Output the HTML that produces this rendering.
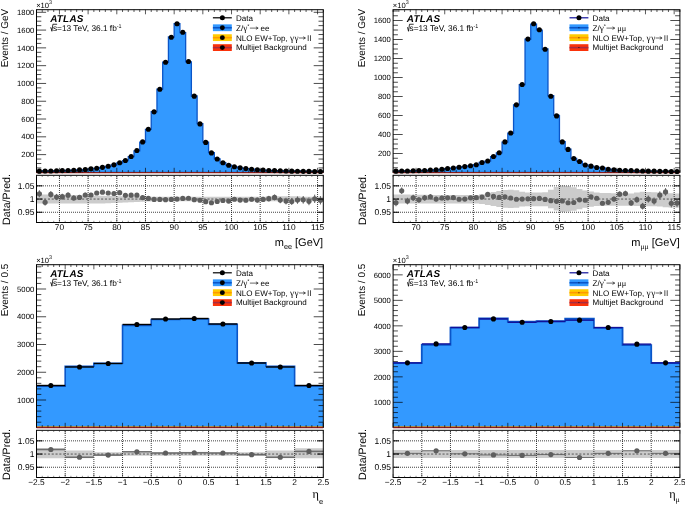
<!DOCTYPE html>
<html><head><meta charset="utf-8"><title>ATLAS Z lineshape</title>
<style>
html,body{margin:0;padding:0;background:#fff;}
body{width:685px;height:506px;overflow:hidden;}
svg{display:block;font-family:"Liberation Sans", sans-serif;fill:#000;will-change:transform;}
text{text-rendering:geometricPrecision;}
</style></head><body>
<svg width="685" height="506" viewBox="0 0 685 506">
<rect width="685" height="506" fill="#fff"/>
<path d="M36.5,172.4 L36.5,171.18 L42.24,171.18 L42.24,170.96 L47.97,170.96 L47.97,171 L53.71,171 L53.71,170.81 L59.44,170.81 L59.44,170.64 L65.18,170.64 L65.18,170.47 L70.92,170.47 L70.92,170.27 L76.65,170.27 L76.65,169.92 L82.39,169.92 L82.39,169.6 L88.12,169.6 L88.12,168.9 L93.86,168.9 L93.86,168.31 L99.6,168.31 L99.6,167.46 L105.33,167.46 L105.33,166.4 L111.07,166.4 L111.07,164.99 L116.8,164.99 L116.8,163.02 L122.54,163.02 L122.54,160.65 L128.28,160.65 L128.28,156.71 L134.01,156.71 L134.01,150.83 L139.75,150.83 L139.75,142.05 L145.48,142.05 L145.48,129.36 L151.22,129.36 L151.22,111.73 L156.96,111.73 L156.96,89.11 L162.69,89.11 L162.69,62.03 L168.43,62.03 L168.43,36.99 L174.16,36.99 L174.16,23.68 L179.9,23.68 L179.9,32.54 L185.64,32.54 L185.64,61.9 L191.37,61.9 L191.37,95.99 L197.11,95.99 L197.11,123.7 L202.84,123.7 L202.84,142.12 L208.58,142.12 L208.58,152.64 L214.32,152.64 L214.32,158.93 L220.05,158.93 L220.05,162.74 L225.79,162.74 L225.79,165.14 L231.52,165.14 L231.52,166.79 L237.26,166.79 L237.26,167.85 L243,167.85 L243,168.56 L248.73,168.56 L248.73,169.2 L254.47,169.2 L254.47,169.72 L260.2,169.72 L260.2,170.08 L265.94,170.08 L265.94,170.45 L271.68,170.45 L271.68,170.63 L277.41,170.63 L277.41,170.79 L283.15,170.79 L283.15,170.97 L288.88,170.97 L288.88,171.14 L294.62,171.14 L294.62,171.24 L300.36,171.24 L300.36,171.33 L306.09,171.33 L306.09,171.37 L311.83,171.37 L311.83,171.51 L317.56,171.51 L317.56,171.51 L323.3,171.51 L323.3,172.4Z" fill="#3399ff"/>
<path d="M36.5,171.18 L42.24,171.18 L42.24,170.96 L47.97,170.96 L47.97,171 L53.71,171 L53.71,170.81 L59.44,170.81 L59.44,170.64 L65.18,170.64 L65.18,170.47 L70.92,170.47 L70.92,170.27 L76.65,170.27 L76.65,169.92 L82.39,169.92 L82.39,169.6 L88.12,169.6 L88.12,168.9 L93.86,168.9 L93.86,168.31 L99.6,168.31 L99.6,167.46 L105.33,167.46 L105.33,166.4 L111.07,166.4 L111.07,164.99 L116.8,164.99 L116.8,163.02 L122.54,163.02 L122.54,160.65 L128.28,160.65 L128.28,156.71 L134.01,156.71 L134.01,150.83 L139.75,150.83 L139.75,142.05 L145.48,142.05 L145.48,129.36 L151.22,129.36 L151.22,111.73 L156.96,111.73 L156.96,89.11 L162.69,89.11 L162.69,62.03 L168.43,62.03 L168.43,36.99 L174.16,36.99 L174.16,23.68 L179.9,23.68 L179.9,32.54 L185.64,32.54 L185.64,61.9 L191.37,61.9 L191.37,95.99 L197.11,95.99 L197.11,123.7 L202.84,123.7 L202.84,142.12 L208.58,142.12 L208.58,152.64 L214.32,152.64 L214.32,158.93 L220.05,158.93 L220.05,162.74 L225.79,162.74 L225.79,165.14 L231.52,165.14 L231.52,166.79 L237.26,166.79 L237.26,167.85 L243,167.85 L243,168.56 L248.73,168.56 L248.73,169.2 L254.47,169.2 L254.47,169.72 L260.2,169.72 L260.2,170.08 L265.94,170.08 L265.94,170.45 L271.68,170.45 L271.68,170.63 L277.41,170.63 L277.41,170.79 L283.15,170.79 L283.15,170.97 L288.88,170.97 L288.88,171.14 L294.62,171.14 L294.62,171.24 L300.36,171.24 L300.36,171.33 L306.09,171.33 L306.09,171.37 L311.83,171.37 L311.83,171.51 L317.56,171.51 L317.56,171.51 L323.3,171.51" fill="none" stroke="#0a55c8" stroke-width="1.3" stroke-linejoin="miter"/>
<rect x="36.5" y="171.1" width="286.8" height="0.7" fill="#ff9900" opacity="0"/>
<rect x="36.5" y="9.7" width="286.8" height="162.7" fill="none" stroke="#000" stroke-width="1"/>
<line x1="36.5" y1="172.6" x2="323.3" y2="172.6" stroke="#8a1c1c" stroke-width="1.3"/>
<text x="34.2" y="157.26" font-size="7.7" text-anchor="end" >200</text>
<text x="34.2" y="139.47" font-size="7.7" text-anchor="end" >400</text>
<text x="34.2" y="121.68" font-size="7.7" text-anchor="end" >600</text>
<text x="34.2" y="103.89" font-size="7.7" text-anchor="end" >800</text>
<text x="34.2" y="86.1" font-size="7.7" text-anchor="end" >1000</text>
<text x="34.2" y="68.31" font-size="7.7" text-anchor="end" >1200</text>
<text x="34.2" y="50.52" font-size="7.7" text-anchor="end" >1400</text>
<text x="34.2" y="32.73" font-size="7.7" text-anchor="end" >1600</text>
<text x="34.2" y="14.94" font-size="7.7" text-anchor="end" >1800</text>
<path d="M36.5,167.95h4.8M323.3,167.95h-4.8M36.5,163.5h4.8M323.3,163.5h-4.8M36.5,159.06h4.8M323.3,159.06h-4.8M36.5,154.61h9.6M323.3,154.61h-9.6M36.5,150.16h4.8M323.3,150.16h-4.8M36.5,145.72h4.8M323.3,145.72h-4.8M36.5,141.27h4.8M323.3,141.27h-4.8M36.5,136.82h9.6M323.3,136.82h-9.6M36.5,132.37h4.8M323.3,132.37h-4.8M36.5,127.93h4.8M323.3,127.93h-4.8M36.5,123.48h4.8M323.3,123.48h-4.8M36.5,119.03h9.6M323.3,119.03h-9.6M36.5,114.58h4.8M323.3,114.58h-4.8M36.5,110.14h4.8M323.3,110.14h-4.8M36.5,105.69h4.8M323.3,105.69h-4.8M36.5,101.24h9.6M323.3,101.24h-9.6M36.5,96.79h4.8M323.3,96.79h-4.8M36.5,92.34h4.8M323.3,92.34h-4.8M36.5,87.9h4.8M323.3,87.9h-4.8M36.5,83.45h9.6M323.3,83.45h-9.6M36.5,79h4.8M323.3,79h-4.8M36.5,74.56h4.8M323.3,74.56h-4.8M36.5,70.11h4.8M323.3,70.11h-4.8M36.5,65.66h9.6M323.3,65.66h-9.6M36.5,61.21h4.8M323.3,61.21h-4.8M36.5,56.77h4.8M323.3,56.77h-4.8M36.5,52.32h4.8M323.3,52.32h-4.8M36.5,47.87h9.6M323.3,47.87h-9.6M36.5,43.42h4.8M323.3,43.42h-4.8M36.5,38.97h4.8M323.3,38.97h-4.8M36.5,34.53h4.8M323.3,34.53h-4.8M36.5,30.08h9.6M323.3,30.08h-9.6M36.5,25.63h4.8M323.3,25.63h-4.8M36.5,21.19h4.8M323.3,21.19h-4.8M36.5,16.74h4.8M323.3,16.74h-4.8M36.5,12.29h9.6M323.3,12.29h-9.6" stroke="#000" stroke-width="0.7" fill="none"/>
<path d="M36.5,172.4v-2.3M36.5,9.7v2.3M42.24,172.4v-2.3M42.24,9.7v2.3M47.97,172.4v-2.3M47.97,9.7v2.3M53.71,172.4v-2.3M53.71,9.7v2.3M59.44,172.4v-4.6M59.44,9.7v4.6M65.18,172.4v-2.3M65.18,9.7v2.3M70.92,172.4v-2.3M70.92,9.7v2.3M76.65,172.4v-2.3M76.65,9.7v2.3M82.39,172.4v-2.3M82.39,9.7v2.3M88.12,172.4v-4.6M88.12,9.7v4.6M93.86,172.4v-2.3M93.86,9.7v2.3M99.6,172.4v-2.3M99.6,9.7v2.3M105.33,172.4v-2.3M105.33,9.7v2.3M111.07,172.4v-2.3M111.07,9.7v2.3M116.8,172.4v-4.6M116.8,9.7v4.6M122.54,172.4v-2.3M122.54,9.7v2.3M128.28,172.4v-2.3M128.28,9.7v2.3M134.01,172.4v-2.3M134.01,9.7v2.3M139.75,172.4v-2.3M139.75,9.7v2.3M145.48,172.4v-4.6M145.48,9.7v4.6M151.22,172.4v-2.3M151.22,9.7v2.3M156.96,172.4v-2.3M156.96,9.7v2.3M162.69,172.4v-2.3M162.69,9.7v2.3M168.43,172.4v-2.3M168.43,9.7v2.3M174.16,172.4v-4.6M174.16,9.7v4.6M179.9,172.4v-2.3M179.9,9.7v2.3M185.64,172.4v-2.3M185.64,9.7v2.3M191.37,172.4v-2.3M191.37,9.7v2.3M197.11,172.4v-2.3M197.11,9.7v2.3M202.84,172.4v-4.6M202.84,9.7v4.6M208.58,172.4v-2.3M208.58,9.7v2.3M214.32,172.4v-2.3M214.32,9.7v2.3M220.05,172.4v-2.3M220.05,9.7v2.3M225.79,172.4v-2.3M225.79,9.7v2.3M231.52,172.4v-4.6M231.52,9.7v4.6M237.26,172.4v-2.3M237.26,9.7v2.3M243,172.4v-2.3M243,9.7v2.3M248.73,172.4v-2.3M248.73,9.7v2.3M254.47,172.4v-2.3M254.47,9.7v2.3M260.2,172.4v-4.6M260.2,9.7v4.6M265.94,172.4v-2.3M265.94,9.7v2.3M271.68,172.4v-2.3M271.68,9.7v2.3M277.41,172.4v-2.3M277.41,9.7v2.3M283.15,172.4v-2.3M283.15,9.7v2.3M288.88,172.4v-4.6M288.88,9.7v4.6M294.62,172.4v-2.3M294.62,9.7v2.3M300.36,172.4v-2.3M300.36,9.7v2.3M306.09,172.4v-2.3M306.09,9.7v2.3M311.83,172.4v-2.3M311.83,9.7v2.3M317.56,172.4v-4.6M317.56,9.7v4.6M323.3,172.4v-2.3M323.3,9.7v2.3" stroke="#000" stroke-width="0.65" fill="none"/>
<text x="36.2" y="8" font-size="7.6">×10<tspan dy="-3.9" font-size="5.4">3</tspan></text>
<circle cx="39.37" cy="171.15" r="2.55" fill="#000"/>
<circle cx="45.1" cy="170.98" r="2.55" fill="#000"/>
<circle cx="50.84" cy="170.98" r="2.55" fill="#000"/>
<circle cx="56.58" cy="170.8" r="2.55" fill="#000"/>
<circle cx="62.31" cy="170.62" r="2.55" fill="#000"/>
<circle cx="68.05" cy="170.44" r="2.55" fill="#000"/>
<circle cx="73.78" cy="170.27" r="2.55" fill="#000"/>
<circle cx="79.52" cy="169.91" r="2.55" fill="#000"/>
<circle cx="85.26" cy="169.55" r="2.55" fill="#000"/>
<circle cx="90.99" cy="168.84" r="2.55" fill="#000"/>
<circle cx="96.73" cy="168.22" r="2.55" fill="#000"/>
<circle cx="102.46" cy="167.33" r="2.55" fill="#000"/>
<circle cx="108.2" cy="166.26" r="2.55" fill="#000"/>
<circle cx="113.94" cy="164.84" r="2.55" fill="#000"/>
<circle cx="119.67" cy="162.79" r="2.55" fill="#000"/>
<circle cx="125.41" cy="160.48" r="2.55" fill="#000"/>
<circle cx="131.14" cy="156.48" r="2.55" fill="#000"/>
<circle cx="136.88" cy="150.52" r="2.55" fill="#000"/>
<circle cx="142.62" cy="141.89" r="2.55" fill="#000"/>
<circle cx="148.35" cy="129.26" r="2.55" fill="#000"/>
<circle cx="154.09" cy="111.83" r="2.55" fill="#000"/>
<circle cx="159.82" cy="89.23" r="2.55" fill="#000"/>
<circle cx="165.56" cy="62.28" r="2.55" fill="#000"/>
<circle cx="171.3" cy="37.2" r="2.55" fill="#000"/>
<circle cx="177.03" cy="23.68" r="2.55" fill="#000"/>
<circle cx="182.77" cy="32.21" r="2.55" fill="#000"/>
<circle cx="188.5" cy="61.57" r="2.55" fill="#000"/>
<circle cx="194.24" cy="96.17" r="2.55" fill="#000"/>
<circle cx="199.98" cy="123.92" r="2.55" fill="#000"/>
<circle cx="205.71" cy="142.42" r="2.55" fill="#000"/>
<circle cx="211.45" cy="152.92" r="2.55" fill="#000"/>
<circle cx="217.18" cy="159.06" r="2.55" fill="#000"/>
<circle cx="222.92" cy="162.79" r="2.55" fill="#000"/>
<circle cx="228.66" cy="165.2" r="2.55" fill="#000"/>
<circle cx="234.39" cy="166.8" r="2.55" fill="#000"/>
<circle cx="240.13" cy="167.86" r="2.55" fill="#000"/>
<circle cx="245.86" cy="168.58" r="2.55" fill="#000"/>
<circle cx="251.6" cy="169.2" r="2.55" fill="#000"/>
<circle cx="257.34" cy="169.73" r="2.55" fill="#000"/>
<circle cx="263.07" cy="170.09" r="2.55" fill="#000"/>
<circle cx="268.81" cy="170.44" r="2.55" fill="#000"/>
<circle cx="274.54" cy="170.62" r="2.55" fill="#000"/>
<circle cx="280.28" cy="170.8" r="2.55" fill="#000"/>
<circle cx="286.02" cy="170.98" r="2.55" fill="#000"/>
<circle cx="291.75" cy="171.15" r="2.55" fill="#000"/>
<circle cx="297.49" cy="171.24" r="2.55" fill="#000"/>
<circle cx="303.22" cy="171.33" r="2.55" fill="#000"/>
<circle cx="308.96" cy="171.38" r="2.55" fill="#000"/>
<circle cx="314.7" cy="171.51" r="2.55" fill="#000"/>
<circle cx="320.43" cy="171.51" r="2.55" fill="#000"/>
<path d="M36.5,194.36 L42.24,194.36 L42.24,194.49 L47.97,194.49 L47.97,194.61 L53.71,194.61 L53.71,194.74 L59.44,194.74 L59.44,194.87 L65.18,194.87 L65.18,194.99 L70.92,194.99 L70.92,195.12 L76.65,195.12 L76.65,195.25 L82.39,195.25 L82.39,195.38 L88.12,195.38 L88.12,195.5 L93.86,195.5 L93.86,195.63 L99.6,195.63 L99.6,195.76 L105.33,195.76 L105.33,195.88 L111.07,195.88 L111.07,196.01 L116.8,196.01 L116.8,196.14 L122.54,196.14 L122.54,196.26 L128.28,196.26 L128.28,196.39 L134.01,196.39 L134.01,196.52 L139.75,196.52 L139.75,196.64 L145.48,196.64 L145.48,196.77 L151.22,196.77 L151.22,196.81 L156.96,196.81 L156.96,196.81 L162.69,196.81 L162.69,196.81 L168.43,196.81 L168.43,196.81 L174.16,196.81 L174.16,196.81 L179.9,196.81 L179.9,196.81 L185.64,196.81 L185.64,196.81 L191.37,196.81 L191.37,196.81 L197.11,196.81 L197.11,196.81 L202.84,196.81 L202.84,196.81 L208.58,196.81 L208.58,196.81 L214.32,196.81 L214.32,196.81 L220.05,196.81 L220.05,196.81 L225.79,196.81 L225.79,196.81 L231.52,196.81 L231.52,196.81 L237.26,196.81 L237.26,196.81 L243,196.81 L243,196.81 L248.73,196.81 L248.73,196.81 L254.47,196.81 L254.47,196.81 L260.2,196.81 L260.2,196.81 L265.94,196.81 L265.94,196.15 L271.68,196.15 L271.68,196.15 L277.41,196.15 L277.41,196.15 L283.15,196.15 L283.15,196.15 L288.88,196.15 L288.88,196.15 L294.62,196.15 L294.62,196.15 L300.36,196.15 L300.36,196.81 L306.09,196.81 L306.09,196.81 L311.83,196.81 L311.83,196.81 L317.56,196.81 L317.56,196.81 L323.3,196.81 L323.3,201.16 L317.56,201.16 L317.56,201.16 L311.83,201.16 L311.83,201.16 L306.09,201.16 L306.09,201.16 L300.36,201.16 L300.36,201.16 L294.62,201.16 L294.62,201.16 L288.88,201.16 L288.88,201.16 L283.15,201.16 L283.15,201.16 L277.41,201.16 L277.41,201.16 L271.68,201.16 L271.68,201.16 L265.94,201.16 L265.94,201.16 L260.2,201.16 L260.2,201.16 L254.47,201.16 L254.47,201.16 L248.73,201.16 L248.73,201.16 L243,201.16 L243,201.16 L237.26,201.16 L237.26,201.16 L231.52,201.16 L231.52,201.16 L225.79,201.16 L225.79,201.16 L220.05,201.16 L220.05,201.16 L214.32,201.16 L214.32,201.16 L208.58,201.16 L208.58,201.16 L202.84,201.16 L202.84,201.16 L197.11,201.16 L197.11,201.16 L191.37,201.16 L191.37,201.16 L185.64,201.16 L185.64,201.16 L179.9,201.16 L179.9,201.16 L174.16,201.16 L174.16,201.16 L168.43,201.16 L168.43,201.16 L162.69,201.16 L162.69,201.16 L156.96,201.16 L156.96,201.33 L151.22,201.33 L151.22,201.57 L145.48,201.57 L145.48,201.81 L139.75,201.81 L139.75,202.05 L134.01,202.05 L134.01,202.28 L128.28,202.28 L128.28,202.52 L122.54,202.52 L122.54,202.76 L116.8,202.76 L116.8,203 L111.07,203 L111.07,203.23 L105.33,203.23 L105.33,203.47 L99.6,203.47 L99.6,203.59 L93.86,203.59 L93.86,203.59 L88.12,203.59 L88.12,203.59 L82.39,203.59 L82.39,203.59 L76.65,203.59 L76.65,203.59 L70.92,203.59 L70.92,203.59 L65.18,203.59 L65.18,203.59 L59.44,203.59 L59.44,203.59 L53.71,203.59 L53.71,203.59 L47.97,203.59 L47.97,203.59 L42.24,203.59 L42.24,203.59 L36.5,203.59Z" fill="#cccccc"/>
<path d="M37,212.25H323.3M37,185.85H323.3M59.44,176V222.5M88.12,176V222.5M116.8,176V222.5M145.48,176V222.5M174.16,176V222.5M202.84,176V222.5M231.52,176V222.5M260.2,176V222.5M288.88,176V222.5M317.56,176V222.5" stroke="#000" stroke-width="0.75" stroke-dasharray="1 1" fill="none"/>
<line x1="36.5" y1="199.05" x2="323.3" y2="199.05" stroke="#555" stroke-width="1" stroke-dasharray="2.1 1.7"/>
<line x1="39.37" y1="190.24" x2="39.37" y2="197.3" stroke="#5e5e5e" stroke-width="1"/>
<circle cx="39.37" cy="193.77" r="2.6" fill="#5e5e5e"/>
<line x1="45.1" y1="199" x2="45.1" y2="205.6" stroke="#5e5e5e" stroke-width="1"/>
<circle cx="45.1" cy="202.3" r="2.6" fill="#5e5e5e"/>
<line x1="50.84" y1="191.08" x2="50.84" y2="197.68" stroke="#5e5e5e" stroke-width="1"/>
<circle cx="50.84" cy="194.38" r="2.6" fill="#5e5e5e"/>
<line x1="56.58" y1="193.91" x2="56.58" y2="200.13" stroke="#5e5e5e" stroke-width="1"/>
<circle cx="56.58" cy="197.02" r="2.6" fill="#5e5e5e"/>
<line x1="62.31" y1="193.72" x2="62.31" y2="199.63" stroke="#5e5e5e" stroke-width="1"/>
<circle cx="62.31" cy="196.67" r="2.6" fill="#5e5e5e"/>
<line x1="68.05" y1="192.38" x2="68.05" y2="198.01" stroke="#5e5e5e" stroke-width="1"/>
<circle cx="68.05" cy="195.2" r="2.6" fill="#5e5e5e"/>
<line x1="73.78" y1="195.3" x2="73.78" y2="200.69" stroke="#5e5e5e" stroke-width="1"/>
<circle cx="73.78" cy="197.99" r="2.6" fill="#5e5e5e"/>
<line x1="79.52" y1="194.97" x2="79.52" y2="199.96" stroke="#5e5e5e" stroke-width="1"/>
<circle cx="79.52" cy="197.47" r="2.6" fill="#5e5e5e"/>
<line x1="85.26" y1="192.65" x2="85.26" y2="197.32" stroke="#5e5e5e" stroke-width="1"/>
<circle cx="85.26" cy="194.98" r="2.6" fill="#5e5e5e"/>
<line x1="90.99" y1="192.9" x2="90.99" y2="197.07" stroke="#5e5e5e" stroke-width="1"/>
<circle cx="90.99" cy="194.98" r="2.6" fill="#5e5e5e"/>
<line x1="96.73" y1="191.05" x2="96.73" y2="194.9" stroke="#5e5e5e" stroke-width="1"/>
<circle cx="96.73" cy="192.98" r="2.6" fill="#5e5e5e"/>
<line x1="102.46" y1="190.44" x2="102.46" y2="193.93" stroke="#5e5e5e" stroke-width="1"/>
<circle cx="102.46" cy="192.19" r="2.6" fill="#5e5e5e"/>
<line x1="108.2" y1="191.39" x2="108.2" y2="194.57" stroke="#5e5e5e" stroke-width="1"/>
<circle cx="108.2" cy="192.98" r="2.6" fill="#5e5e5e"/>
<line x1="113.94" y1="192.07" x2="113.94" y2="194.94" stroke="#5e5e5e" stroke-width="1"/>
<circle cx="113.94" cy="193.51" r="2.6" fill="#5e5e5e"/>
<line x1="119.67" y1="191.44" x2="119.67" y2="193.98" stroke="#5e5e5e" stroke-width="1"/>
<circle cx="119.67" cy="192.71" r="2.6" fill="#5e5e5e"/>
<circle cx="125.41" cy="195.35" r="2.6" fill="#5e5e5e"/>
<circle cx="131.14" cy="195.2" r="2.6" fill="#5e5e5e"/>
<circle cx="136.88" cy="195.2" r="2.6" fill="#5e5e5e"/>
<circle cx="142.62" cy="197.62" r="2.6" fill="#5e5e5e"/>
<circle cx="148.35" cy="198.44" r="2.6" fill="#5e5e5e"/>
<circle cx="154.09" cy="199.45" r="2.6" fill="#5e5e5e"/>
<circle cx="159.82" cy="199.45" r="2.6" fill="#5e5e5e"/>
<circle cx="165.56" cy="199.66" r="2.6" fill="#5e5e5e"/>
<circle cx="171.3" cy="199.45" r="2.6" fill="#5e5e5e"/>
<circle cx="177.03" cy="199.05" r="2.6" fill="#5e5e5e"/>
<circle cx="182.77" cy="198.44" r="2.6" fill="#5e5e5e"/>
<circle cx="188.5" cy="198.26" r="2.6" fill="#5e5e5e"/>
<circle cx="194.24" cy="199.66" r="2.6" fill="#5e5e5e"/>
<circle cx="199.98" cy="200.26" r="2.6" fill="#5e5e5e"/>
<circle cx="205.71" cy="201.69" r="2.6" fill="#5e5e5e"/>
<circle cx="211.45" cy="202.75" r="2.6" fill="#5e5e5e"/>
<circle cx="217.18" cy="201.48" r="2.6" fill="#5e5e5e"/>
<line x1="222.92" y1="199.21" x2="222.92" y2="201.75" stroke="#5e5e5e" stroke-width="1"/>
<circle cx="222.92" cy="200.48" r="2.6" fill="#5e5e5e"/>
<line x1="228.66" y1="199.62" x2="228.66" y2="202.55" stroke="#5e5e5e" stroke-width="1"/>
<circle cx="228.66" cy="201.08" r="2.6" fill="#5e5e5e"/>
<line x1="234.39" y1="197.6" x2="234.39" y2="200.92" stroke="#5e5e5e" stroke-width="1"/>
<circle cx="234.39" cy="199.26" r="2.6" fill="#5e5e5e"/>
<line x1="240.13" y1="198.26" x2="240.13" y2="201.95" stroke="#5e5e5e" stroke-width="1"/>
<circle cx="240.13" cy="200.11" r="2.6" fill="#5e5e5e"/>
<line x1="245.86" y1="198.25" x2="245.86" y2="202.28" stroke="#5e5e5e" stroke-width="1"/>
<circle cx="245.86" cy="200.26" r="2.6" fill="#5e5e5e"/>
<line x1="251.6" y1="197.06" x2="251.6" y2="201.46" stroke="#5e5e5e" stroke-width="1"/>
<circle cx="251.6" cy="199.26" r="2.6" fill="#5e5e5e"/>
<line x1="257.34" y1="197.7" x2="257.34" y2="202.52" stroke="#5e5e5e" stroke-width="1"/>
<circle cx="257.34" cy="200.11" r="2.6" fill="#5e5e5e"/>
<line x1="263.07" y1="196.86" x2="263.07" y2="202.03" stroke="#5e5e5e" stroke-width="1"/>
<circle cx="263.07" cy="199.45" r="2.6" fill="#5e5e5e"/>
<line x1="268.81" y1="195.84" x2="268.81" y2="201.47" stroke="#5e5e5e" stroke-width="1"/>
<circle cx="268.81" cy="198.65" r="2.6" fill="#5e5e5e"/>
<line x1="274.54" y1="194.51" x2="274.54" y2="200.42" stroke="#5e5e5e" stroke-width="1"/>
<circle cx="274.54" cy="197.47" r="2.6" fill="#5e5e5e"/>
<line x1="280.28" y1="196.99" x2="280.28" y2="203.22" stroke="#5e5e5e" stroke-width="1"/>
<circle cx="280.28" cy="200.11" r="2.6" fill="#5e5e5e"/>
<line x1="286.02" y1="197.78" x2="286.02" y2="204.38" stroke="#5e5e5e" stroke-width="1"/>
<circle cx="286.02" cy="201.08" r="2.6" fill="#5e5e5e"/>
<line x1="291.75" y1="197.95" x2="291.75" y2="205.01" stroke="#5e5e5e" stroke-width="1"/>
<circle cx="291.75" cy="201.48" r="2.6" fill="#5e5e5e"/>
<line x1="297.49" y1="196.44" x2="297.49" y2="203.77" stroke="#5e5e5e" stroke-width="1"/>
<circle cx="297.49" cy="200.11" r="2.6" fill="#5e5e5e"/>
<line x1="303.22" y1="196.03" x2="303.22" y2="203.65" stroke="#5e5e5e" stroke-width="1"/>
<circle cx="303.22" cy="199.84" r="2.6" fill="#5e5e5e"/>
<line x1="308.96" y1="197.4" x2="308.96" y2="205.19" stroke="#5e5e5e" stroke-width="1"/>
<circle cx="308.96" cy="201.29" r="2.6" fill="#5e5e5e"/>
<line x1="314.7" y1="194.66" x2="314.7" y2="203.01" stroke="#5e5e5e" stroke-width="1"/>
<circle cx="314.7" cy="198.84" r="2.6" fill="#5e5e5e"/>
<line x1="320.43" y1="196.09" x2="320.43" y2="204.44" stroke="#5e5e5e" stroke-width="1"/>
<circle cx="320.43" cy="200.26" r="2.6" fill="#5e5e5e"/>
<rect x="36.5" y="175.3" width="286.8" height="47.2" fill="none" stroke="#000" stroke-width="1"/>
<text x="34.4" y="215.25" font-size="8.5" text-anchor="end" >0.95</text>
<text x="34.4" y="202.05" font-size="8.5" text-anchor="end" >1</text>
<text x="34.4" y="188.85" font-size="8.5" text-anchor="end" >1.05</text>
<path d="M36.5,212.25h6M323.3,212.25h-6M36.5,199.05h6M323.3,199.05h-6M36.5,185.85h6M323.3,185.85h-6" stroke="#000" stroke-width="1" fill="none"/>
<text x="59.44" y="230.3" font-size="8.35" text-anchor="middle" >70</text>
<text x="88.12" y="230.3" font-size="8.35" text-anchor="middle" >75</text>
<text x="116.8" y="230.3" font-size="8.35" text-anchor="middle" >80</text>
<text x="145.48" y="230.3" font-size="8.35" text-anchor="middle" >85</text>
<text x="174.16" y="230.3" font-size="8.35" text-anchor="middle" >90</text>
<text x="202.84" y="230.3" font-size="8.35" text-anchor="middle" >95</text>
<text x="231.52" y="230.3" font-size="8.35" text-anchor="middle" >100</text>
<text x="260.2" y="230.3" font-size="8.35" text-anchor="middle" >105</text>
<text x="288.88" y="230.3" font-size="8.35" text-anchor="middle" >110</text>
<text x="317.56" y="230.3" font-size="8.35" text-anchor="middle" >115</text>
<path d="M36.5,222.5v-1.7M36.5,175.3v1.7M42.24,222.5v-1.7M42.24,175.3v1.7M47.97,222.5v-1.7M47.97,175.3v1.7M53.71,222.5v-1.7M53.71,175.3v1.7M59.44,222.5v-3.4M59.44,175.3v3.4M65.18,222.5v-1.7M65.18,175.3v1.7M70.92,222.5v-1.7M70.92,175.3v1.7M76.65,222.5v-1.7M76.65,175.3v1.7M82.39,222.5v-1.7M82.39,175.3v1.7M88.12,222.5v-3.4M88.12,175.3v3.4M93.86,222.5v-1.7M93.86,175.3v1.7M99.6,222.5v-1.7M99.6,175.3v1.7M105.33,222.5v-1.7M105.33,175.3v1.7M111.07,222.5v-1.7M111.07,175.3v1.7M116.8,222.5v-3.4M116.8,175.3v3.4M122.54,222.5v-1.7M122.54,175.3v1.7M128.28,222.5v-1.7M128.28,175.3v1.7M134.01,222.5v-1.7M134.01,175.3v1.7M139.75,222.5v-1.7M139.75,175.3v1.7M145.48,222.5v-3.4M145.48,175.3v3.4M151.22,222.5v-1.7M151.22,175.3v1.7M156.96,222.5v-1.7M156.96,175.3v1.7M162.69,222.5v-1.7M162.69,175.3v1.7M168.43,222.5v-1.7M168.43,175.3v1.7M174.16,222.5v-3.4M174.16,175.3v3.4M179.9,222.5v-1.7M179.9,175.3v1.7M185.64,222.5v-1.7M185.64,175.3v1.7M191.37,222.5v-1.7M191.37,175.3v1.7M197.11,222.5v-1.7M197.11,175.3v1.7M202.84,222.5v-3.4M202.84,175.3v3.4M208.58,222.5v-1.7M208.58,175.3v1.7M214.32,222.5v-1.7M214.32,175.3v1.7M220.05,222.5v-1.7M220.05,175.3v1.7M225.79,222.5v-1.7M225.79,175.3v1.7M231.52,222.5v-3.4M231.52,175.3v3.4M237.26,222.5v-1.7M237.26,175.3v1.7M243,222.5v-1.7M243,175.3v1.7M248.73,222.5v-1.7M248.73,175.3v1.7M254.47,222.5v-1.7M254.47,175.3v1.7M260.2,222.5v-3.4M260.2,175.3v3.4M265.94,222.5v-1.7M265.94,175.3v1.7M271.68,222.5v-1.7M271.68,175.3v1.7M277.41,222.5v-1.7M277.41,175.3v1.7M283.15,222.5v-1.7M283.15,175.3v1.7M288.88,222.5v-3.4M288.88,175.3v3.4M294.62,222.5v-1.7M294.62,175.3v1.7M300.36,222.5v-1.7M300.36,175.3v1.7M306.09,222.5v-1.7M306.09,175.3v1.7M311.83,222.5v-1.7M311.83,175.3v1.7M317.56,222.5v-3.4M317.56,175.3v3.4M323.3,222.5v-1.7M323.3,175.3v1.7" stroke="#222" stroke-width="0.5" fill="none"/>
<text transform="translate(8.3,8.8) rotate(-90)" font-size="9.95" text-anchor="end">Events / GeV</text>
<text transform="translate(9.7,174) rotate(-90)" font-size="10.65" text-anchor="end">Data/Pred.</text>
<text x="323.2" y="245.7" font-size="11" text-anchor="end">m<tspan dy="3.1" font-size="7.3">ee</tspan><tspan dy="-3.1"> [GeV]</tspan></text>
<text x="50.2" y="22" font-size="9.9" font-weight="bold" font-style="italic" letter-spacing="0.25">ATLAS</text>
<path d="M50.4,27.9l0.6,-0.35l0.9,3.7l1.0,-7.0h4.2" stroke="#000" stroke-width="0.8" fill="none"/>
<text x="52.9" y="31.4" font-size="8.3">s=13 TeV, 36.1 fb<tspan dy="-3.2" font-size="5.4">-1</tspan></text>
<line x1="212.9" y1="17.8" x2="231.8" y2="17.8" stroke="#000" stroke-width="1.2"/>
<circle cx="222.35" cy="17.8" r="2.5" fill="#000"/>
<text x="236" y="20.65" font-size="8.05" text-anchor="start" >Data</text>
<rect x="212.9" y="24.35" width="18.9" height="6.8" fill="#3399ff"/>
<line x1="212.9" y1="27.75" x2="231.8" y2="27.75" stroke="#0a55c8" stroke-width="1.6"/>
<circle cx="222.35" cy="27.75" r="2.45" fill="#000"/>
<text x="236" y="30.6" font-size="8.05">Z/<tspan font-family='"Liberation Serif", serif' font-size="9.3">γ</tspan><tspan dy="-2.6" font-size="5.6">*</tspan></text>
<path d="M249.9,28.1H257.8M255.9,26.8L258.2,28.1L255.9,29.4" stroke="#000" stroke-width="0.6" fill="none" stroke-linejoin="round"/>
<text x="260.6" y="30.6" font-size="8.05" text-anchor="start" >ee</text>
<rect x="212.9" y="34.25" width="18.9" height="6.8" fill="#ffcc00"/>
<line x1="212.9" y1="37.65" x2="231.8" y2="37.65" stroke="#ff9900" stroke-width="1.6"/>
<circle cx="222.35" cy="37.65" r="2.45" fill="#000"/>
<text x="236" y="40.5" font-size="8.05">NLO EW+Top, </text>
<text x="289.9" y="40.5" font-size="9.3" letter-spacing="0.6" font-family='"Liberation Serif", serif'>γγ</text>
<path d="M299,38H305.1M303.2,36.7L305.5,38L303.2,39.3" stroke="#000" stroke-width="0.6" fill="none" stroke-linejoin="round"/>
<text x="307.3" y="40.5" font-size="8.05" text-anchor="start" letter-spacing="0.5">ll</text>
<rect x="212.9" y="44.2" width="18.9" height="6.8" fill="#fa320a"/>
<line x1="212.9" y1="47.6" x2="231.8" y2="47.6" stroke="#a82c40" stroke-width="1.6"/>
<circle cx="222.35" cy="47.6" r="2.45" fill="#000"/>
<text x="236" y="50.45" font-size="8.05" text-anchor="start" >Multijet Background</text>
<path d="M393.1,172.4 L393.1,171.15 L398.84,171.15 L398.84,171.03 L404.57,171.03 L404.57,170.97 L410.31,170.97 L410.31,170.8 L416.04,170.8 L416.04,170.59 L421.78,170.59 L421.78,170.47 L427.52,170.47 L427.52,170.15 L433.25,170.15 L433.25,169.75 L438.99,169.75 L438.99,169.28 L444.72,169.28 L444.72,168.53 L450.46,168.53 L450.46,168.06 L456.2,168.06 L456.2,167.27 L461.93,167.27 L461.93,166.61 L467.67,166.61 L467.67,165.79 L473.4,165.79 L473.4,164.75 L479.14,164.75 L479.14,162.51 L484.88,162.51 L484.88,161.2 L490.61,161.2 L490.61,156.6 L496.35,156.6 L496.35,152.86 L502.08,152.86 L502.08,142.17 L507.82,142.17 L507.82,133.23 L513.56,133.23 L513.56,104.81 L519.29,104.81 L519.29,84.53 L525.03,84.53 L525.03,39.23 L530.76,39.23 L530.76,24.05 L536.5,24.05 L536.5,30.14 L542.24,30.14 L542.24,49 L547.97,49 L547.97,95.74 L553.71,95.74 L553.71,115.39 L559.44,115.39 L559.44,141.69 L565.18,141.69 L565.18,149.09 L570.92,149.09 L570.92,158.35 L576.65,158.35 L576.65,161.45 L582.39,161.45 L582.39,164.96 L588.12,164.96 L588.12,166.19 L593.86,166.19 L593.86,167.48 L599.6,167.48 L599.6,167.96 L605.33,167.96 L605.33,169.13 L611.07,169.13 L611.07,169.75 L616.8,169.75 L616.8,170.35 L622.54,170.35 L622.54,170.5 L628.28,170.5 L628.28,170.57 L634.01,170.57 L634.01,170.79 L639.75,170.79 L639.75,170.94 L645.48,170.94 L645.48,171.17 L651.22,171.17 L651.22,171.16 L656.96,171.16 L656.96,171.38 L662.69,171.38 L662.69,171.39 L668.43,171.39 L668.43,171.53 L674.16,171.53 L674.16,171.54 L679.9,171.54 L679.9,172.4Z" fill="#3399ff"/>
<path d="M393.1,171.15 L398.84,171.15 L398.84,171.03 L404.57,171.03 L404.57,170.97 L410.31,170.97 L410.31,170.8 L416.04,170.8 L416.04,170.59 L421.78,170.59 L421.78,170.47 L427.52,170.47 L427.52,170.15 L433.25,170.15 L433.25,169.75 L438.99,169.75 L438.99,169.28 L444.72,169.28 L444.72,168.53 L450.46,168.53 L450.46,168.06 L456.2,168.06 L456.2,167.27 L461.93,167.27 L461.93,166.61 L467.67,166.61 L467.67,165.79 L473.4,165.79 L473.4,164.75 L479.14,164.75 L479.14,162.51 L484.88,162.51 L484.88,161.2 L490.61,161.2 L490.61,156.6 L496.35,156.6 L496.35,152.86 L502.08,152.86 L502.08,142.17 L507.82,142.17 L507.82,133.23 L513.56,133.23 L513.56,104.81 L519.29,104.81 L519.29,84.53 L525.03,84.53 L525.03,39.23 L530.76,39.23 L530.76,24.05 L536.5,24.05 L536.5,30.14 L542.24,30.14 L542.24,49 L547.97,49 L547.97,95.74 L553.71,95.74 L553.71,115.39 L559.44,115.39 L559.44,141.69 L565.18,141.69 L565.18,149.09 L570.92,149.09 L570.92,158.35 L576.65,158.35 L576.65,161.45 L582.39,161.45 L582.39,164.96 L588.12,164.96 L588.12,166.19 L593.86,166.19 L593.86,167.48 L599.6,167.48 L599.6,167.96 L605.33,167.96 L605.33,169.13 L611.07,169.13 L611.07,169.75 L616.8,169.75 L616.8,170.35 L622.54,170.35 L622.54,170.5 L628.28,170.5 L628.28,170.57 L634.01,170.57 L634.01,170.79 L639.75,170.79 L639.75,170.94 L645.48,170.94 L645.48,171.17 L651.22,171.17 L651.22,171.16 L656.96,171.16 L656.96,171.38 L662.69,171.38 L662.69,171.39 L668.43,171.39 L668.43,171.53 L674.16,171.53 L674.16,171.54 L679.9,171.54" fill="none" stroke="#0a55c8" stroke-width="1.3" stroke-linejoin="miter"/>
<rect x="393.1" y="171.1" width="286.8" height="0.7" fill="#ff9900" opacity="0"/>
<rect x="393.1" y="9.7" width="286.8" height="162.7" fill="none" stroke="#000" stroke-width="1"/>
<line x1="393.1" y1="172.6" x2="679.9" y2="172.6" stroke="#8a1c1c" stroke-width="1.3"/>
<text x="390.8" y="156.15" font-size="7.7" text-anchor="end" >200</text>
<text x="390.8" y="137.15" font-size="7.7" text-anchor="end" >400</text>
<text x="390.8" y="118.15" font-size="7.7" text-anchor="end" >600</text>
<text x="390.8" y="99.15" font-size="7.7" text-anchor="end" >800</text>
<text x="390.8" y="80.15" font-size="7.7" text-anchor="end" >1000</text>
<text x="390.8" y="61.15" font-size="7.7" text-anchor="end" >1200</text>
<text x="390.8" y="42.15" font-size="7.7" text-anchor="end" >1400</text>
<text x="390.8" y="23.15" font-size="7.7" text-anchor="end" >1600</text>
<path d="M393.1,167.75h4.8M679.9,167.75h-4.8M393.1,163h4.8M679.9,163h-4.8M393.1,158.25h4.8M679.9,158.25h-4.8M393.1,153.5h9.6M679.9,153.5h-9.6M393.1,148.75h4.8M679.9,148.75h-4.8M393.1,144h4.8M679.9,144h-4.8M393.1,139.25h4.8M679.9,139.25h-4.8M393.1,134.5h9.6M679.9,134.5h-9.6M393.1,129.75h4.8M679.9,129.75h-4.8M393.1,125h4.8M679.9,125h-4.8M393.1,120.25h4.8M679.9,120.25h-4.8M393.1,115.5h9.6M679.9,115.5h-9.6M393.1,110.75h4.8M679.9,110.75h-4.8M393.1,106h4.8M679.9,106h-4.8M393.1,101.25h4.8M679.9,101.25h-4.8M393.1,96.5h9.6M679.9,96.5h-9.6M393.1,91.75h4.8M679.9,91.75h-4.8M393.1,87h4.8M679.9,87h-4.8M393.1,82.25h4.8M679.9,82.25h-4.8M393.1,77.5h9.6M679.9,77.5h-9.6M393.1,72.75h4.8M679.9,72.75h-4.8M393.1,68h4.8M679.9,68h-4.8M393.1,63.25h4.8M679.9,63.25h-4.8M393.1,58.5h9.6M679.9,58.5h-9.6M393.1,53.75h4.8M679.9,53.75h-4.8M393.1,49h4.8M679.9,49h-4.8M393.1,44.25h4.8M679.9,44.25h-4.8M393.1,39.5h9.6M679.9,39.5h-9.6M393.1,34.75h4.8M679.9,34.75h-4.8M393.1,30h4.8M679.9,30h-4.8M393.1,25.25h4.8M679.9,25.25h-4.8M393.1,20.5h9.6M679.9,20.5h-9.6M393.1,15.75h4.8M679.9,15.75h-4.8M393.1,11h4.8M679.9,11h-4.8" stroke="#000" stroke-width="0.7" fill="none"/>
<path d="M393.1,172.4v-2.3M393.1,9.7v2.3M398.84,172.4v-2.3M398.84,9.7v2.3M404.57,172.4v-2.3M404.57,9.7v2.3M410.31,172.4v-2.3M410.31,9.7v2.3M416.04,172.4v-4.6M416.04,9.7v4.6M421.78,172.4v-2.3M421.78,9.7v2.3M427.52,172.4v-2.3M427.52,9.7v2.3M433.25,172.4v-2.3M433.25,9.7v2.3M438.99,172.4v-2.3M438.99,9.7v2.3M444.72,172.4v-4.6M444.72,9.7v4.6M450.46,172.4v-2.3M450.46,9.7v2.3M456.2,172.4v-2.3M456.2,9.7v2.3M461.93,172.4v-2.3M461.93,9.7v2.3M467.67,172.4v-2.3M467.67,9.7v2.3M473.4,172.4v-4.6M473.4,9.7v4.6M479.14,172.4v-2.3M479.14,9.7v2.3M484.88,172.4v-2.3M484.88,9.7v2.3M490.61,172.4v-2.3M490.61,9.7v2.3M496.35,172.4v-2.3M496.35,9.7v2.3M502.08,172.4v-4.6M502.08,9.7v4.6M507.82,172.4v-2.3M507.82,9.7v2.3M513.56,172.4v-2.3M513.56,9.7v2.3M519.29,172.4v-2.3M519.29,9.7v2.3M525.03,172.4v-2.3M525.03,9.7v2.3M530.76,172.4v-4.6M530.76,9.7v4.6M536.5,172.4v-2.3M536.5,9.7v2.3M542.24,172.4v-2.3M542.24,9.7v2.3M547.97,172.4v-2.3M547.97,9.7v2.3M553.71,172.4v-2.3M553.71,9.7v2.3M559.44,172.4v-4.6M559.44,9.7v4.6M565.18,172.4v-2.3M565.18,9.7v2.3M570.92,172.4v-2.3M570.92,9.7v2.3M576.65,172.4v-2.3M576.65,9.7v2.3M582.39,172.4v-2.3M582.39,9.7v2.3M588.12,172.4v-4.6M588.12,9.7v4.6M593.86,172.4v-2.3M593.86,9.7v2.3M599.6,172.4v-2.3M599.6,9.7v2.3M605.33,172.4v-2.3M605.33,9.7v2.3M611.07,172.4v-2.3M611.07,9.7v2.3M616.8,172.4v-4.6M616.8,9.7v4.6M622.54,172.4v-2.3M622.54,9.7v2.3M628.28,172.4v-2.3M628.28,9.7v2.3M634.01,172.4v-2.3M634.01,9.7v2.3M639.75,172.4v-2.3M639.75,9.7v2.3M645.48,172.4v-4.6M645.48,9.7v4.6M651.22,172.4v-2.3M651.22,9.7v2.3M656.96,172.4v-2.3M656.96,9.7v2.3M662.69,172.4v-2.3M662.69,9.7v2.3M668.43,172.4v-2.3M668.43,9.7v2.3M674.16,172.4v-4.6M674.16,9.7v4.6M679.9,172.4v-2.3M679.9,9.7v2.3" stroke="#000" stroke-width="0.65" fill="none"/>
<text x="392.8" y="8" font-size="7.6">×10<tspan dy="-3.9" font-size="5.4">3</tspan></text>
<circle cx="395.97" cy="171.17" r="2.55" fill="#000"/>
<circle cx="401.7" cy="170.98" r="2.55" fill="#000"/>
<circle cx="407.44" cy="170.98" r="2.55" fill="#000"/>
<circle cx="413.18" cy="170.79" r="2.55" fill="#000"/>
<circle cx="418.91" cy="170.6" r="2.55" fill="#000"/>
<circle cx="424.65" cy="170.46" r="2.55" fill="#000"/>
<circle cx="430.38" cy="170.12" r="2.55" fill="#000"/>
<circle cx="436.12" cy="169.75" r="2.55" fill="#000"/>
<circle cx="441.86" cy="169.27" r="2.55" fill="#000"/>
<circle cx="447.59" cy="168.51" r="2.55" fill="#000"/>
<circle cx="453.33" cy="168.03" r="2.55" fill="#000"/>
<circle cx="459.06" cy="167.28" r="2.55" fill="#000"/>
<circle cx="464.8" cy="166.61" r="2.55" fill="#000"/>
<circle cx="470.54" cy="165.75" r="2.55" fill="#000"/>
<circle cx="476.27" cy="164.71" r="2.55" fill="#000"/>
<circle cx="482.01" cy="162.43" r="2.55" fill="#000"/>
<circle cx="487.74" cy="161" r="2.55" fill="#000"/>
<circle cx="493.48" cy="156.44" r="2.55" fill="#000"/>
<circle cx="499.22" cy="152.74" r="2.55" fill="#000"/>
<circle cx="504.95" cy="141.91" r="2.55" fill="#000"/>
<circle cx="510.69" cy="133.07" r="2.55" fill="#000"/>
<circle cx="516.42" cy="104.86" r="2.55" fill="#000"/>
<circle cx="522.16" cy="84.53" r="2.55" fill="#000"/>
<circle cx="527.9" cy="39.12" r="2.55" fill="#000"/>
<circle cx="533.63" cy="23.82" r="2.55" fill="#000"/>
<circle cx="539.37" cy="29.81" r="2.55" fill="#000"/>
<circle cx="545.1" cy="49.19" r="2.55" fill="#000"/>
<circle cx="550.84" cy="96.22" r="2.55" fill="#000"/>
<circle cx="556.58" cy="115.88" r="2.55" fill="#000"/>
<circle cx="562.31" cy="141.91" r="2.55" fill="#000"/>
<circle cx="568.05" cy="149.41" r="2.55" fill="#000"/>
<circle cx="573.78" cy="158.53" r="2.55" fill="#000"/>
<circle cx="579.52" cy="161.48" r="2.55" fill="#000"/>
<circle cx="585.26" cy="165" r="2.55" fill="#000"/>
<circle cx="590.99" cy="166.13" r="2.55" fill="#000"/>
<circle cx="596.73" cy="167.47" r="2.55" fill="#000"/>
<circle cx="602.46" cy="168.03" r="2.55" fill="#000"/>
<circle cx="608.2" cy="169.18" r="2.55" fill="#000"/>
<circle cx="613.94" cy="169.75" r="2.55" fill="#000"/>
<circle cx="619.67" cy="170.31" r="2.55" fill="#000"/>
<circle cx="625.41" cy="170.46" r="2.55" fill="#000"/>
<circle cx="631.14" cy="170.6" r="2.55" fill="#000"/>
<circle cx="636.88" cy="170.79" r="2.55" fill="#000"/>
<circle cx="642.62" cy="170.98" r="2.55" fill="#000"/>
<circle cx="648.35" cy="171.17" r="2.55" fill="#000"/>
<circle cx="654.09" cy="171.17" r="2.55" fill="#000"/>
<circle cx="659.82" cy="171.36" r="2.55" fill="#000"/>
<circle cx="665.56" cy="171.36" r="2.55" fill="#000"/>
<circle cx="671.3" cy="171.55" r="2.55" fill="#000"/>
<circle cx="677.03" cy="171.55" r="2.55" fill="#000"/>
<path d="M393.1,194.42 L398.84,194.42 L398.84,194.51 L404.57,194.51 L404.57,194.59 L410.31,194.59 L410.31,194.68 L416.04,194.68 L416.04,194.77 L421.78,194.77 L421.78,194.85 L427.52,194.85 L427.52,194.94 L433.25,194.94 L433.25,194.98 L438.99,194.98 L438.99,194.98 L444.72,194.98 L444.72,194.98 L450.46,194.98 L450.46,194.98 L456.2,194.98 L456.2,194.98 L461.93,194.98 L461.93,194.98 L467.67,194.98 L467.67,194.98 L473.4,194.98 L473.4,194.98 L479.14,194.98 L479.14,194.17 L484.88,194.17 L484.88,193.18 L490.61,193.18 L490.61,191.99 L496.35,191.99 L496.35,190.95 L502.08,190.95 L502.08,190.07 L507.82,190.07 L507.82,189.72 L513.56,189.72 L513.56,190.26 L519.29,190.26 L519.29,191.63 L525.03,191.63 L525.03,192.45 L530.76,192.45 L530.76,192.45 L536.5,192.45 L536.5,192.45 L542.24,192.45 L542.24,192.2 L547.97,192.2 L547.97,189.75 L553.71,189.75 L553.71,187.03 L559.44,187.03 L559.44,185.5 L565.18,185.5 L565.18,186.09 L570.92,186.09 L570.92,187.33 L576.65,187.33 L576.65,188.94 L582.39,188.94 L582.39,190.54 L588.12,190.54 L588.12,191.6 L593.86,191.6 L593.86,192.52 L599.6,192.52 L599.6,193.03 L605.33,193.03 L605.33,193.12 L611.07,193.12 L611.07,193.22 L616.8,193.22 L616.8,193.31 L622.54,193.31 L622.54,193.41 L628.28,193.41 L628.28,193.51 L634.01,193.51 L634.01,192.48 L639.75,192.48 L639.75,191.72 L645.48,191.72 L645.48,192.01 L651.22,192.01 L651.22,192.3 L656.96,192.3 L656.96,192.59 L662.69,192.59 L662.69,192.87 L668.43,192.87 L668.43,193.13 L674.16,193.13 L674.16,193.38 L679.9,193.38 L679.9,207.5 L674.16,207.5 L674.16,207.5 L668.43,207.5 L668.43,207.22 L662.69,207.22 L662.69,206.53 L656.96,206.53 L656.96,206.18 L651.22,206.18 L651.22,206.18 L645.48,206.18 L645.48,206.18 L639.75,206.18 L639.75,205.94 L634.01,205.94 L634.01,205.65 L628.28,205.65 L628.28,205.65 L622.54,205.65 L622.54,205.65 L616.8,205.65 L616.8,205.65 L611.07,205.65 L611.07,205.65 L605.33,205.65 L605.33,205.65 L599.6,205.65 L599.6,206.05 L593.86,206.05 L593.86,206.86 L588.12,206.86 L588.12,207.8 L582.39,207.8 L582.39,209.29 L576.65,209.29 L576.65,210.78 L570.92,210.78 L570.92,211.58 L565.18,211.58 L565.18,211.9 L559.44,211.9 L559.44,210.52 L553.71,210.52 L553.71,208.25 L547.97,208.25 L547.97,206.37 L542.24,206.37 L542.24,206.18 L536.5,206.18 L536.5,206.18 L530.76,206.18 L530.76,206.18 L525.03,206.18 L525.03,206.59 L519.29,206.59 L519.29,207.68 L513.56,207.68 L513.56,208.11 L507.82,208.11 L507.82,207.76 L502.08,207.76 L502.08,207.06 L496.35,207.06 L496.35,206.11 L490.61,206.11 L490.61,204.92 L484.88,204.92 L484.88,204.07 L479.14,204.07 L479.14,203.54 L473.4,203.54 L473.4,203.54 L467.67,203.54 L467.67,203.54 L461.93,203.54 L461.93,203.54 L456.2,203.54 L456.2,203.54 L450.46,203.54 L450.46,203.54 L444.72,203.54 L444.72,203.54 L438.99,203.54 L438.99,203.54 L433.25,203.54 L433.25,203.54 L427.52,203.54 L427.52,203.54 L421.78,203.54 L421.78,203.54 L416.04,203.54 L416.04,203.54 L410.31,203.54 L410.31,203.54 L404.57,203.54 L404.57,203.54 L398.84,203.54 L398.84,203.54 L393.1,203.54Z" fill="#cccccc"/>
<path d="M394,212.25H679.9M394,185.85H679.9M416.04,176V222.5M444.72,176V222.5M473.4,176V222.5M502.08,176V222.5M530.76,176V222.5M559.44,176V222.5M588.12,176V222.5M616.8,176V222.5M645.48,176V222.5M674.16,176V222.5" stroke="#000" stroke-width="0.75" stroke-dasharray="1 1" fill="none"/>
<line x1="393.1" y1="199.05" x2="679.9" y2="199.05" stroke="#555" stroke-width="1" stroke-dasharray="2.1 1.7"/>
<line x1="395.97" y1="199.22" x2="395.97" y2="206.27" stroke="#5e5e5e" stroke-width="1"/>
<circle cx="395.97" cy="202.75" r="2.6" fill="#5e5e5e"/>
<line x1="401.7" y1="187.43" x2="401.7" y2="194.03" stroke="#5e5e5e" stroke-width="1"/>
<circle cx="401.7" cy="190.73" r="2.6" fill="#5e5e5e"/>
<line x1="407.44" y1="197.78" x2="407.44" y2="204.38" stroke="#5e5e5e" stroke-width="1"/>
<circle cx="407.44" cy="201.08" r="2.6" fill="#5e5e5e"/>
<line x1="413.18" y1="194.72" x2="413.18" y2="200.95" stroke="#5e5e5e" stroke-width="1"/>
<circle cx="413.18" cy="197.84" r="2.6" fill="#5e5e5e"/>
<line x1="418.91" y1="196.89" x2="418.91" y2="202.79" stroke="#5e5e5e" stroke-width="1"/>
<circle cx="418.91" cy="199.84" r="2.6" fill="#5e5e5e"/>
<line x1="424.65" y1="194.99" x2="424.65" y2="200.68" stroke="#5e5e5e" stroke-width="1"/>
<circle cx="424.65" cy="197.84" r="2.6" fill="#5e5e5e"/>
<line x1="430.38" y1="194.17" x2="430.38" y2="199.45" stroke="#5e5e5e" stroke-width="1"/>
<circle cx="430.38" cy="196.81" r="2.6" fill="#5e5e5e"/>
<line x1="436.12" y1="196.6" x2="436.12" y2="201.5" stroke="#5e5e5e" stroke-width="1"/>
<circle cx="436.12" cy="199.05" r="2.6" fill="#5e5e5e"/>
<line x1="441.86" y1="195.73" x2="441.86" y2="200.26" stroke="#5e5e5e" stroke-width="1"/>
<circle cx="441.86" cy="197.99" r="2.6" fill="#5e5e5e"/>
<line x1="447.59" y1="195.8" x2="447.59" y2="199.87" stroke="#5e5e5e" stroke-width="1"/>
<circle cx="447.59" cy="197.84" r="2.6" fill="#5e5e5e"/>
<line x1="453.33" y1="195.7" x2="453.33" y2="199.55" stroke="#5e5e5e" stroke-width="1"/>
<circle cx="453.33" cy="197.62" r="2.6" fill="#5e5e5e"/>
<line x1="459.06" y1="197.48" x2="459.06" y2="201.04" stroke="#5e5e5e" stroke-width="1"/>
<circle cx="459.06" cy="199.26" r="2.6" fill="#5e5e5e"/>
<line x1="464.8" y1="197.37" x2="464.8" y2="200.73" stroke="#5e5e5e" stroke-width="1"/>
<circle cx="464.8" cy="199.05" r="2.6" fill="#5e5e5e"/>
<line x1="470.54" y1="196.27" x2="470.54" y2="199.4" stroke="#5e5e5e" stroke-width="1"/>
<circle cx="470.54" cy="197.84" r="2.6" fill="#5e5e5e"/>
<line x1="476.27" y1="196.17" x2="476.27" y2="199.08" stroke="#5e5e5e" stroke-width="1"/>
<circle cx="476.27" cy="197.62" r="2.6" fill="#5e5e5e"/>
<line x1="482.01" y1="195.74" x2="482.01" y2="198.3" stroke="#5e5e5e" stroke-width="1"/>
<circle cx="482.01" cy="197.02" r="2.6" fill="#5e5e5e"/>
<circle cx="487.74" cy="194.38" r="2.6" fill="#5e5e5e"/>
<circle cx="493.48" cy="196.41" r="2.6" fill="#5e5e5e"/>
<circle cx="499.22" cy="197.47" r="2.6" fill="#5e5e5e"/>
<circle cx="504.95" cy="196.81" r="2.6" fill="#5e5e5e"/>
<circle cx="510.69" cy="197.99" r="2.6" fill="#5e5e5e"/>
<circle cx="516.42" cy="199.26" r="2.6" fill="#5e5e5e"/>
<circle cx="522.16" cy="199.05" r="2.6" fill="#5e5e5e"/>
<circle cx="527.9" cy="198.84" r="2.6" fill="#5e5e5e"/>
<circle cx="533.63" cy="198.65" r="2.6" fill="#5e5e5e"/>
<circle cx="539.37" cy="198.44" r="2.6" fill="#5e5e5e"/>
<circle cx="545.1" cy="199.45" r="2.6" fill="#5e5e5e"/>
<circle cx="550.84" cy="200.69" r="2.6" fill="#5e5e5e"/>
<circle cx="556.58" cy="201.29" r="2.6" fill="#5e5e5e"/>
<circle cx="562.31" cy="200.9" r="2.6" fill="#5e5e5e"/>
<circle cx="568.05" cy="202.75" r="2.6" fill="#5e5e5e"/>
<circle cx="573.78" cy="202.48" r="2.6" fill="#5e5e5e"/>
<line x1="579.52" y1="198.62" x2="579.52" y2="201.07" stroke="#5e5e5e" stroke-width="1"/>
<circle cx="579.52" cy="199.84" r="2.6" fill="#5e5e5e"/>
<line x1="585.26" y1="198.78" x2="585.26" y2="201.75" stroke="#5e5e5e" stroke-width="1"/>
<circle cx="585.26" cy="200.26" r="2.6" fill="#5e5e5e"/>
<line x1="590.99" y1="195.19" x2="590.99" y2="198.42" stroke="#5e5e5e" stroke-width="1"/>
<circle cx="590.99" cy="196.81" r="2.6" fill="#5e5e5e"/>
<line x1="596.73" y1="196.44" x2="596.73" y2="200.07" stroke="#5e5e5e" stroke-width="1"/>
<circle cx="596.73" cy="198.26" r="2.6" fill="#5e5e5e"/>
<line x1="602.46" y1="201.35" x2="602.46" y2="205.2" stroke="#5e5e5e" stroke-width="1"/>
<circle cx="602.46" cy="203.27" r="2.6" fill="#5e5e5e"/>
<line x1="608.2" y1="200.07" x2="608.2" y2="204.53" stroke="#5e5e5e" stroke-width="1"/>
<circle cx="608.2" cy="202.3" r="2.6" fill="#5e5e5e"/>
<line x1="613.94" y1="196.6" x2="613.94" y2="201.5" stroke="#5e5e5e" stroke-width="1"/>
<circle cx="613.94" cy="199.05" r="2.6" fill="#5e5e5e"/>
<line x1="619.67" y1="191.41" x2="619.67" y2="196.92" stroke="#5e5e5e" stroke-width="1"/>
<circle cx="619.67" cy="194.17" r="2.6" fill="#5e5e5e"/>
<line x1="625.41" y1="190.66" x2="625.41" y2="196.35" stroke="#5e5e5e" stroke-width="1"/>
<circle cx="625.41" cy="193.51" r="2.6" fill="#5e5e5e"/>
<line x1="631.14" y1="199.95" x2="631.14" y2="205.86" stroke="#5e5e5e" stroke-width="1"/>
<circle cx="631.14" cy="202.9" r="2.6" fill="#5e5e5e"/>
<line x1="636.88" y1="196.55" x2="636.88" y2="202.77" stroke="#5e5e5e" stroke-width="1"/>
<circle cx="636.88" cy="199.66" r="2.6" fill="#5e5e5e"/>
<line x1="642.62" y1="202.88" x2="642.62" y2="209.48" stroke="#5e5e5e" stroke-width="1"/>
<circle cx="642.62" cy="206.18" r="2.6" fill="#5e5e5e"/>
<line x1="648.35" y1="195.52" x2="648.35" y2="202.58" stroke="#5e5e5e" stroke-width="1"/>
<circle cx="648.35" cy="199.05" r="2.6" fill="#5e5e5e"/>
<line x1="654.09" y1="197.55" x2="654.09" y2="204.61" stroke="#5e5e5e" stroke-width="1"/>
<circle cx="654.09" cy="201.08" r="2.6" fill="#5e5e5e"/>
<line x1="659.82" y1="191.39" x2="659.82" y2="199.01" stroke="#5e5e5e" stroke-width="1"/>
<circle cx="659.82" cy="195.2" r="2.6" fill="#5e5e5e"/>
<line x1="665.56" y1="188.11" x2="665.56" y2="195.73" stroke="#5e5e5e" stroke-width="1"/>
<circle cx="665.56" cy="191.92" r="2.6" fill="#5e5e5e"/>
<line x1="671.3" y1="199.1" x2="671.3" y2="207.45" stroke="#5e5e5e" stroke-width="1"/>
<circle cx="671.3" cy="203.27" r="2.6" fill="#5e5e5e"/>
<line x1="677.03" y1="198.94" x2="677.03" y2="207.29" stroke="#5e5e5e" stroke-width="1"/>
<circle cx="677.03" cy="203.12" r="2.6" fill="#5e5e5e"/>
<rect x="393.1" y="175.3" width="286.8" height="47.2" fill="none" stroke="#000" stroke-width="1"/>
<text x="391" y="215.25" font-size="8.5" text-anchor="end" >0.95</text>
<text x="391" y="202.05" font-size="8.5" text-anchor="end" >1</text>
<text x="391" y="188.85" font-size="8.5" text-anchor="end" >1.05</text>
<path d="M393.1,212.25h6M679.9,212.25h-6M393.1,199.05h6M679.9,199.05h-6M393.1,185.85h6M679.9,185.85h-6" stroke="#000" stroke-width="1" fill="none"/>
<text x="416.04" y="230.3" font-size="8.35" text-anchor="middle" >70</text>
<text x="444.72" y="230.3" font-size="8.35" text-anchor="middle" >75</text>
<text x="473.4" y="230.3" font-size="8.35" text-anchor="middle" >80</text>
<text x="502.08" y="230.3" font-size="8.35" text-anchor="middle" >85</text>
<text x="530.76" y="230.3" font-size="8.35" text-anchor="middle" >90</text>
<text x="559.44" y="230.3" font-size="8.35" text-anchor="middle" >95</text>
<text x="588.12" y="230.3" font-size="8.35" text-anchor="middle" >100</text>
<text x="616.8" y="230.3" font-size="8.35" text-anchor="middle" >105</text>
<text x="645.48" y="230.3" font-size="8.35" text-anchor="middle" >110</text>
<text x="674.16" y="230.3" font-size="8.35" text-anchor="middle" >115</text>
<path d="M393.1,222.5v-1.7M393.1,175.3v1.7M398.84,222.5v-1.7M398.84,175.3v1.7M404.57,222.5v-1.7M404.57,175.3v1.7M410.31,222.5v-1.7M410.31,175.3v1.7M416.04,222.5v-3.4M416.04,175.3v3.4M421.78,222.5v-1.7M421.78,175.3v1.7M427.52,222.5v-1.7M427.52,175.3v1.7M433.25,222.5v-1.7M433.25,175.3v1.7M438.99,222.5v-1.7M438.99,175.3v1.7M444.72,222.5v-3.4M444.72,175.3v3.4M450.46,222.5v-1.7M450.46,175.3v1.7M456.2,222.5v-1.7M456.2,175.3v1.7M461.93,222.5v-1.7M461.93,175.3v1.7M467.67,222.5v-1.7M467.67,175.3v1.7M473.4,222.5v-3.4M473.4,175.3v3.4M479.14,222.5v-1.7M479.14,175.3v1.7M484.88,222.5v-1.7M484.88,175.3v1.7M490.61,222.5v-1.7M490.61,175.3v1.7M496.35,222.5v-1.7M496.35,175.3v1.7M502.08,222.5v-3.4M502.08,175.3v3.4M507.82,222.5v-1.7M507.82,175.3v1.7M513.56,222.5v-1.7M513.56,175.3v1.7M519.29,222.5v-1.7M519.29,175.3v1.7M525.03,222.5v-1.7M525.03,175.3v1.7M530.76,222.5v-3.4M530.76,175.3v3.4M536.5,222.5v-1.7M536.5,175.3v1.7M542.24,222.5v-1.7M542.24,175.3v1.7M547.97,222.5v-1.7M547.97,175.3v1.7M553.71,222.5v-1.7M553.71,175.3v1.7M559.44,222.5v-3.4M559.44,175.3v3.4M565.18,222.5v-1.7M565.18,175.3v1.7M570.92,222.5v-1.7M570.92,175.3v1.7M576.65,222.5v-1.7M576.65,175.3v1.7M582.39,222.5v-1.7M582.39,175.3v1.7M588.12,222.5v-3.4M588.12,175.3v3.4M593.86,222.5v-1.7M593.86,175.3v1.7M599.6,222.5v-1.7M599.6,175.3v1.7M605.33,222.5v-1.7M605.33,175.3v1.7M611.07,222.5v-1.7M611.07,175.3v1.7M616.8,222.5v-3.4M616.8,175.3v3.4M622.54,222.5v-1.7M622.54,175.3v1.7M628.28,222.5v-1.7M628.28,175.3v1.7M634.01,222.5v-1.7M634.01,175.3v1.7M639.75,222.5v-1.7M639.75,175.3v1.7M645.48,222.5v-3.4M645.48,175.3v3.4M651.22,222.5v-1.7M651.22,175.3v1.7M656.96,222.5v-1.7M656.96,175.3v1.7M662.69,222.5v-1.7M662.69,175.3v1.7M668.43,222.5v-1.7M668.43,175.3v1.7M674.16,222.5v-3.4M674.16,175.3v3.4M679.9,222.5v-1.7M679.9,175.3v1.7" stroke="#222" stroke-width="0.5" fill="none"/>
<text transform="translate(364.9,8.8) rotate(-90)" font-size="9.95" text-anchor="end">Events / GeV</text>
<text transform="translate(366.3,174) rotate(-90)" font-size="10.65" text-anchor="end">Data/Pred.</text>
<text x="679.8" y="245.7" font-size="11" text-anchor="end">m<tspan dy="3.1" font-size="7.6" font-family='"Liberation Serif", serif'>μμ</tspan><tspan dy="-3.1"> [GeV]</tspan></text>
<text x="406.8" y="22" font-size="9.9" font-weight="bold" font-style="italic" letter-spacing="0.25">ATLAS</text>
<path d="M407,27.9l0.6,-0.35l0.9,3.7l1.0,-7.0h4.2" stroke="#000" stroke-width="0.8" fill="none"/>
<text x="409.5" y="31.4" font-size="8.3">s=13 TeV, 36.1 fb<tspan dy="-3.2" font-size="5.4">-1</tspan></text>
<line x1="569.5" y1="17.8" x2="588.4" y2="17.8" stroke="#10109a" stroke-width="1.2"/>
<circle cx="578.95" cy="17.8" r="2.5" fill="#000"/>
<text x="592.6" y="20.65" font-size="8.05" text-anchor="start" >Data</text>
<rect x="569.5" y="24.35" width="18.9" height="6.8" fill="#3399ff"/>
<line x1="569.5" y1="27.75" x2="588.4" y2="27.75" stroke="#0a55c8" stroke-width="1.6"/>
<circle cx="578.95" cy="27.75" r="0.5" fill="#000"/>
<text x="592.6" y="30.6" font-size="8.05">Z/<tspan font-family='"Liberation Serif", serif' font-size="9.3">γ</tspan><tspan dy="-2.6" font-size="5.6">*</tspan></text>
<path d="M606.5,28.1H614.4M612.5,26.8L614.8,28.1L612.5,29.4" stroke="#000" stroke-width="0.6" fill="none" stroke-linejoin="round"/>
<text x="617.2" y="30.6" font-size="8.4" font-family='"Liberation Serif", serif'>μμ</text>
<rect x="569.5" y="34.25" width="18.9" height="6.8" fill="#ffcc00"/>
<line x1="569.5" y1="37.65" x2="588.4" y2="37.65" stroke="#ff9900" stroke-width="1.6"/>
<circle cx="578.95" cy="37.65" r="0.5" fill="#000"/>
<text x="592.6" y="40.5" font-size="8.05">NLO EW+Top, </text>
<text x="646.5" y="40.5" font-size="9.3" letter-spacing="0.6" font-family='"Liberation Serif", serif'>γγ</text>
<path d="M655.6,38H661.7M659.8,36.7L662.1,38L659.8,39.3" stroke="#000" stroke-width="0.6" fill="none" stroke-linejoin="round"/>
<text x="663.9" y="40.5" font-size="8.05" text-anchor="start" letter-spacing="0.5">ll</text>
<rect x="569.5" y="44.2" width="18.9" height="6.8" fill="#fa320a"/>
<line x1="569.5" y1="47.6" x2="588.4" y2="47.6" stroke="#a82c40" stroke-width="1.6"/>
<circle cx="578.95" cy="47.6" r="0.5" fill="#000"/>
<text x="592.6" y="50.45" font-size="8.05" text-anchor="start" >Multijet Background</text>
<path d="M36.5,427.4 L36.5,386.21 L65.18,386.21 L65.18,366.26 L93.86,366.26 L93.86,363.25 L122.54,363.25 L122.54,325.36 L151.22,325.36 L151.22,319.43 L179.9,319.43 L179.9,319.04 L208.58,319.04 L208.58,324.41 L237.26,324.41 L237.26,362.85 L265.94,362.85 L265.94,366.26 L294.62,366.26 L294.62,385.91 L323.3,385.91 L323.3,427.4Z" fill="#3399ff"/>
<path d="M36.5,386.21 L65.18,386.21 L65.18,366.26 L93.86,366.26 L93.86,363.25 L122.54,363.25 L122.54,325.36 L151.22,325.36 L151.22,319.43 L179.9,319.43 L179.9,319.04 L208.58,319.04 L208.58,324.41 L237.26,324.41 L237.26,362.85 L265.94,362.85 L265.94,366.26 L294.62,366.26 L294.62,385.91 L323.3,385.91" fill="none" stroke="#0a55c8" stroke-width="1.6" stroke-linejoin="miter"/>
<rect x="36.5" y="426.1" width="286.8" height="0.7" fill="#ff9900" opacity="1"/>
<rect x="36.5" y="264.7" width="286.8" height="162.7" fill="none" stroke="#000" stroke-width="1"/>
<line x1="36.5" y1="427.6" x2="323.3" y2="427.6" stroke="#8a1c1c" stroke-width="1.3"/>
<text x="34.2" y="402.65" font-size="7.7" text-anchor="end" >1000</text>
<text x="34.2" y="374.9" font-size="7.7" text-anchor="end" >2000</text>
<text x="34.2" y="347.15" font-size="7.7" text-anchor="end" >3000</text>
<text x="34.2" y="319.4" font-size="7.7" text-anchor="end" >4000</text>
<text x="34.2" y="291.65" font-size="7.7" text-anchor="end" >5000</text>
<path d="M36.5,422.2h4.8M323.3,422.2h-4.8M36.5,416.65h4.8M323.3,416.65h-4.8M36.5,411.1h4.8M323.3,411.1h-4.8M36.5,405.55h4.8M323.3,405.55h-4.8M36.5,400h9.6M323.3,400h-9.6M36.5,394.45h4.8M323.3,394.45h-4.8M36.5,388.9h4.8M323.3,388.9h-4.8M36.5,383.35h4.8M323.3,383.35h-4.8M36.5,377.8h4.8M323.3,377.8h-4.8M36.5,372.25h9.6M323.3,372.25h-9.6M36.5,366.7h4.8M323.3,366.7h-4.8M36.5,361.15h4.8M323.3,361.15h-4.8M36.5,355.6h4.8M323.3,355.6h-4.8M36.5,350.05h4.8M323.3,350.05h-4.8M36.5,344.5h9.6M323.3,344.5h-9.6M36.5,338.95h4.8M323.3,338.95h-4.8M36.5,333.4h4.8M323.3,333.4h-4.8M36.5,327.85h4.8M323.3,327.85h-4.8M36.5,322.3h4.8M323.3,322.3h-4.8M36.5,316.75h9.6M323.3,316.75h-9.6M36.5,311.2h4.8M323.3,311.2h-4.8M36.5,305.65h4.8M323.3,305.65h-4.8M36.5,300.1h4.8M323.3,300.1h-4.8M36.5,294.55h4.8M323.3,294.55h-4.8M36.5,289h9.6M323.3,289h-9.6M36.5,283.45h4.8M323.3,283.45h-4.8M36.5,277.9h4.8M323.3,277.9h-4.8M36.5,272.35h4.8M323.3,272.35h-4.8M36.5,266.8h4.8M323.3,266.8h-4.8" stroke="#000" stroke-width="0.7" fill="none"/>
<path d="M36.5,427.4v-4.6M36.5,264.7v4.6M42.24,427.4v-2.3M42.24,264.7v2.3M47.97,427.4v-2.3M47.97,264.7v2.3M53.71,427.4v-2.3M53.71,264.7v2.3M59.44,427.4v-2.3M59.44,264.7v2.3M65.18,427.4v-4.6M65.18,264.7v4.6M70.92,427.4v-2.3M70.92,264.7v2.3M76.65,427.4v-2.3M76.65,264.7v2.3M82.39,427.4v-2.3M82.39,264.7v2.3M88.12,427.4v-2.3M88.12,264.7v2.3M93.86,427.4v-4.6M93.86,264.7v4.6M99.6,427.4v-2.3M99.6,264.7v2.3M105.33,427.4v-2.3M105.33,264.7v2.3M111.07,427.4v-2.3M111.07,264.7v2.3M116.8,427.4v-2.3M116.8,264.7v2.3M122.54,427.4v-4.6M122.54,264.7v4.6M128.28,427.4v-2.3M128.28,264.7v2.3M134.01,427.4v-2.3M134.01,264.7v2.3M139.75,427.4v-2.3M139.75,264.7v2.3M145.48,427.4v-2.3M145.48,264.7v2.3M151.22,427.4v-4.6M151.22,264.7v4.6M156.96,427.4v-2.3M156.96,264.7v2.3M162.69,427.4v-2.3M162.69,264.7v2.3M168.43,427.4v-2.3M168.43,264.7v2.3M174.16,427.4v-2.3M174.16,264.7v2.3M179.9,427.4v-4.6M179.9,264.7v4.6M185.64,427.4v-2.3M185.64,264.7v2.3M191.37,427.4v-2.3M191.37,264.7v2.3M197.11,427.4v-2.3M197.11,264.7v2.3M202.84,427.4v-2.3M202.84,264.7v2.3M208.58,427.4v-4.6M208.58,264.7v4.6M214.32,427.4v-2.3M214.32,264.7v2.3M220.05,427.4v-2.3M220.05,264.7v2.3M225.79,427.4v-2.3M225.79,264.7v2.3M231.52,427.4v-2.3M231.52,264.7v2.3M237.26,427.4v-4.6M237.26,264.7v4.6M243,427.4v-2.3M243,264.7v2.3M248.73,427.4v-2.3M248.73,264.7v2.3M254.47,427.4v-2.3M254.47,264.7v2.3M260.2,427.4v-2.3M260.2,264.7v2.3M265.94,427.4v-4.6M265.94,264.7v4.6M271.68,427.4v-2.3M271.68,264.7v2.3M277.41,427.4v-2.3M277.41,264.7v2.3M283.15,427.4v-2.3M283.15,264.7v2.3M288.88,427.4v-2.3M288.88,264.7v2.3M294.62,427.4v-4.6M294.62,264.7v4.6M300.36,427.4v-2.3M300.36,264.7v2.3M306.09,427.4v-2.3M306.09,264.7v2.3M311.83,427.4v-2.3M311.83,264.7v2.3M317.56,427.4v-2.3M317.56,264.7v2.3M323.3,427.4v-4.6M323.3,264.7v4.6" stroke="#000" stroke-width="0.65" fill="none"/>
<text x="36.2" y="263" font-size="7.6">×10<tspan dy="-3.9" font-size="5.4">3</tspan></text>
<line x1="36.5" y1="385.49" x2="65.18" y2="385.49" stroke="#000" stroke-width="1.4"/>
<line x1="65.18" y1="367.01" x2="93.86" y2="367.01" stroke="#000" stroke-width="1.4"/>
<line x1="93.86" y1="363.51" x2="122.54" y2="363.51" stroke="#000" stroke-width="1.4"/>
<line x1="122.54" y1="324.49" x2="151.22" y2="324.49" stroke="#000" stroke-width="1.4"/>
<line x1="151.22" y1="319" x2="179.9" y2="319" stroke="#000" stroke-width="1.4"/>
<line x1="179.9" y1="318.5" x2="208.58" y2="318.5" stroke="#000" stroke-width="1.4"/>
<line x1="208.58" y1="323.99" x2="237.26" y2="323.99" stroke="#000" stroke-width="1.4"/>
<line x1="237.26" y1="363.01" x2="265.94" y2="363.01" stroke="#000" stroke-width="1.4"/>
<line x1="265.94" y1="367.01" x2="294.62" y2="367.01" stroke="#000" stroke-width="1.4"/>
<line x1="294.62" y1="385.49" x2="323.3" y2="385.49" stroke="#000" stroke-width="1.4"/>
<circle cx="50.84" cy="385.49" r="2.55" fill="#000"/>
<circle cx="79.52" cy="367.01" r="2.55" fill="#000"/>
<circle cx="108.2" cy="363.51" r="2.55" fill="#000"/>
<circle cx="136.88" cy="324.49" r="2.55" fill="#000"/>
<circle cx="165.56" cy="319" r="2.55" fill="#000"/>
<circle cx="194.24" cy="318.5" r="2.55" fill="#000"/>
<circle cx="222.92" cy="323.99" r="2.55" fill="#000"/>
<circle cx="251.6" cy="363.01" r="2.55" fill="#000"/>
<circle cx="280.28" cy="367.01" r="2.55" fill="#000"/>
<circle cx="308.96" cy="385.49" r="2.55" fill="#000"/>
<path d="M36.5,448.27 L65.18,448.27 L65.18,450.49 L93.86,450.49 L93.86,452.33 L122.54,452.33 L122.54,452.47 L151.22,452.47 L151.22,452.47 L179.9,452.47 L179.9,452.47 L208.58,452.47 L208.58,452.47 L237.26,452.47 L237.26,452.33 L265.94,452.33 L265.94,450.49 L294.62,450.49 L294.62,448.27 L323.3,448.27 L323.3,458.27 L294.62,458.27 L294.62,457.88 L265.94,457.88 L265.94,455.77 L237.26,455.77 L237.26,455.63 L208.58,455.63 L208.58,455.63 L179.9,455.63 L179.9,455.63 L151.22,455.63 L151.22,455.63 L122.54,455.63 L122.54,455.77 L93.86,455.77 L93.86,457.88 L65.18,457.88 L65.18,458.27 L36.5,458.27Z" fill="#cccccc"/>
<path d="M37,467.25H323.3M37,440.85H323.3M65.18,431V477.5M93.86,431V477.5M122.54,431V477.5M151.22,431V477.5M179.9,431V477.5M208.58,431V477.5M237.26,431V477.5M265.94,431V477.5M294.62,431V477.5" stroke="#000" stroke-width="0.75" stroke-dasharray="1 1" fill="none"/>
<line x1="36.5" y1="454.05" x2="323.3" y2="454.05" stroke="#555" stroke-width="1" stroke-dasharray="2.1 1.7"/>
<line x1="36.5" y1="449.48" x2="65.18" y2="449.48" stroke="#5e5e5e" stroke-width="1.6" opacity="0.85"/>
<circle cx="50.84" cy="449.48" r="2.6" fill="#5e5e5e"/>
<line x1="65.18" y1="457.27" x2="93.86" y2="457.27" stroke="#5e5e5e" stroke-width="1.6" opacity="0.85"/>
<circle cx="79.52" cy="457.27" r="2.6" fill="#5e5e5e"/>
<line x1="93.86" y1="455.11" x2="122.54" y2="455.11" stroke="#5e5e5e" stroke-width="1.6" opacity="0.85"/>
<circle cx="108.2" cy="455.11" r="2.6" fill="#5e5e5e"/>
<line x1="122.54" y1="451.81" x2="151.22" y2="451.81" stroke="#5e5e5e" stroke-width="1.6" opacity="0.85"/>
<circle cx="136.88" cy="451.81" r="2.6" fill="#5e5e5e"/>
<line x1="151.22" y1="452.99" x2="179.9" y2="452.99" stroke="#5e5e5e" stroke-width="1.6" opacity="0.85"/>
<circle cx="165.56" cy="452.99" r="2.6" fill="#5e5e5e"/>
<line x1="179.9" y1="452.73" x2="208.58" y2="452.73" stroke="#5e5e5e" stroke-width="1.6" opacity="0.85"/>
<circle cx="194.24" cy="452.73" r="2.6" fill="#5e5e5e"/>
<line x1="208.58" y1="452.99" x2="237.26" y2="452.99" stroke="#5e5e5e" stroke-width="1.6" opacity="0.85"/>
<circle cx="222.92" cy="452.99" r="2.6" fill="#5e5e5e"/>
<line x1="237.26" y1="454.71" x2="265.94" y2="454.71" stroke="#5e5e5e" stroke-width="1.6" opacity="0.85"/>
<circle cx="251.6" cy="454.71" r="2.6" fill="#5e5e5e"/>
<line x1="265.94" y1="457.27" x2="294.62" y2="457.27" stroke="#5e5e5e" stroke-width="1.6" opacity="0.85"/>
<circle cx="280.28" cy="457.27" r="2.6" fill="#5e5e5e"/>
<line x1="294.62" y1="451.41" x2="323.3" y2="451.41" stroke="#5e5e5e" stroke-width="1.6" opacity="0.85"/>
<circle cx="308.96" cy="451.41" r="2.6" fill="#5e5e5e"/>
<rect x="36.5" y="430.3" width="286.8" height="47.2" fill="none" stroke="#000" stroke-width="1"/>
<text x="34.4" y="470.25" font-size="8.5" text-anchor="end" >0.95</text>
<text x="34.4" y="457.05" font-size="8.5" text-anchor="end" >1</text>
<text x="34.4" y="443.85" font-size="8.5" text-anchor="end" >1.05</text>
<path d="M36.5,467.25h6M323.3,467.25h-6M36.5,454.05h6M323.3,454.05h-6M36.5,440.85h6M323.3,440.85h-6" stroke="#000" stroke-width="1" fill="none"/>
<text x="36.5" y="485.3" font-size="8.35" text-anchor="middle" >−2.5</text>
<text x="65.18" y="485.3" font-size="8.35" text-anchor="middle" >−2</text>
<text x="93.86" y="485.3" font-size="8.35" text-anchor="middle" >−1.5</text>
<text x="122.54" y="485.3" font-size="8.35" text-anchor="middle" >−1</text>
<text x="151.22" y="485.3" font-size="8.35" text-anchor="middle" >−0.5</text>
<text x="179.9" y="485.3" font-size="8.35" text-anchor="middle" >0</text>
<text x="208.58" y="485.3" font-size="8.35" text-anchor="middle" >0.5</text>
<text x="237.26" y="485.3" font-size="8.35" text-anchor="middle" >1</text>
<text x="265.94" y="485.3" font-size="8.35" text-anchor="middle" >1.5</text>
<text x="294.62" y="485.3" font-size="8.35" text-anchor="middle" >2</text>
<text x="323.3" y="485.3" font-size="8.35" text-anchor="middle" >2.5</text>
<path d="M36.5,477.5v-3.4M36.5,430.3v3.4M42.24,477.5v-1.7M42.24,430.3v1.7M47.97,477.5v-1.7M47.97,430.3v1.7M53.71,477.5v-1.7M53.71,430.3v1.7M59.44,477.5v-1.7M59.44,430.3v1.7M65.18,477.5v-3.4M65.18,430.3v3.4M70.92,477.5v-1.7M70.92,430.3v1.7M76.65,477.5v-1.7M76.65,430.3v1.7M82.39,477.5v-1.7M82.39,430.3v1.7M88.12,477.5v-1.7M88.12,430.3v1.7M93.86,477.5v-3.4M93.86,430.3v3.4M99.6,477.5v-1.7M99.6,430.3v1.7M105.33,477.5v-1.7M105.33,430.3v1.7M111.07,477.5v-1.7M111.07,430.3v1.7M116.8,477.5v-1.7M116.8,430.3v1.7M122.54,477.5v-3.4M122.54,430.3v3.4M128.28,477.5v-1.7M128.28,430.3v1.7M134.01,477.5v-1.7M134.01,430.3v1.7M139.75,477.5v-1.7M139.75,430.3v1.7M145.48,477.5v-1.7M145.48,430.3v1.7M151.22,477.5v-3.4M151.22,430.3v3.4M156.96,477.5v-1.7M156.96,430.3v1.7M162.69,477.5v-1.7M162.69,430.3v1.7M168.43,477.5v-1.7M168.43,430.3v1.7M174.16,477.5v-1.7M174.16,430.3v1.7M179.9,477.5v-3.4M179.9,430.3v3.4M185.64,477.5v-1.7M185.64,430.3v1.7M191.37,477.5v-1.7M191.37,430.3v1.7M197.11,477.5v-1.7M197.11,430.3v1.7M202.84,477.5v-1.7M202.84,430.3v1.7M208.58,477.5v-3.4M208.58,430.3v3.4M214.32,477.5v-1.7M214.32,430.3v1.7M220.05,477.5v-1.7M220.05,430.3v1.7M225.79,477.5v-1.7M225.79,430.3v1.7M231.52,477.5v-1.7M231.52,430.3v1.7M237.26,477.5v-3.4M237.26,430.3v3.4M243,477.5v-1.7M243,430.3v1.7M248.73,477.5v-1.7M248.73,430.3v1.7M254.47,477.5v-1.7M254.47,430.3v1.7M260.2,477.5v-1.7M260.2,430.3v1.7M265.94,477.5v-3.4M265.94,430.3v3.4M271.68,477.5v-1.7M271.68,430.3v1.7M277.41,477.5v-1.7M277.41,430.3v1.7M283.15,477.5v-1.7M283.15,430.3v1.7M288.88,477.5v-1.7M288.88,430.3v1.7M294.62,477.5v-3.4M294.62,430.3v3.4M300.36,477.5v-1.7M300.36,430.3v1.7M306.09,477.5v-1.7M306.09,430.3v1.7M311.83,477.5v-1.7M311.83,430.3v1.7M317.56,477.5v-1.7M317.56,430.3v1.7M323.3,477.5v-3.4M323.3,430.3v3.4" stroke="#222" stroke-width="0.5" fill="none"/>
<text transform="translate(8.3,263.8) rotate(-90)" font-size="9.95" text-anchor="end">Events / 0.5</text>
<text transform="translate(9.7,429) rotate(-90)" font-size="10.65" text-anchor="end">Data/Pred.</text>
<text x="323.2" y="497.8" font-size="10" text-anchor="end"><tspan font-family='"Liberation Serif", serif' font-size="12.3">η</tspan><tspan dy="5.8" font-size="7.5">e</tspan></text>
<text x="50.2" y="277" font-size="9.9" font-weight="bold" font-style="italic" letter-spacing="0.25">ATLAS</text>
<path d="M50.4,282.9l0.6,-0.35l0.9,3.7l1.0,-7.0h4.2" stroke="#000" stroke-width="0.8" fill="none"/>
<text x="52.9" y="286.4" font-size="8.3">s=13 TeV, 36.1 fb<tspan dy="-3.2" font-size="5.4">-1</tspan></text>
<line x1="212.9" y1="272.8" x2="231.8" y2="272.8" stroke="#000" stroke-width="1.2"/>
<circle cx="222.35" cy="272.8" r="2.5" fill="#000"/>
<text x="236" y="275.65" font-size="8.05" text-anchor="start" >Data</text>
<rect x="212.9" y="279.35" width="18.9" height="6.8" fill="#3399ff"/>
<line x1="212.9" y1="282.75" x2="231.8" y2="282.75" stroke="#0a55c8" stroke-width="1.6"/>
<circle cx="222.35" cy="282.75" r="2.45" fill="#000"/>
<text x="236" y="285.6" font-size="8.05">Z/<tspan font-family='"Liberation Serif", serif' font-size="9.3">γ</tspan><tspan dy="-2.6" font-size="5.6">*</tspan></text>
<path d="M249.9,283.1H257.8M255.9,281.8L258.2,283.1L255.9,284.4" stroke="#000" stroke-width="0.6" fill="none" stroke-linejoin="round"/>
<text x="260.6" y="285.6" font-size="8.05" text-anchor="start" >ee</text>
<rect x="212.9" y="289.25" width="18.9" height="6.8" fill="#ffcc00"/>
<line x1="212.9" y1="292.65" x2="231.8" y2="292.65" stroke="#ff9900" stroke-width="1.6"/>
<circle cx="222.35" cy="292.65" r="2.45" fill="#000"/>
<text x="236" y="295.5" font-size="8.05">NLO EW+Top, </text>
<text x="289.9" y="295.5" font-size="9.3" letter-spacing="0.6" font-family='"Liberation Serif", serif'>γγ</text>
<path d="M299,293H305.1M303.2,291.7L305.5,293L303.2,294.3" stroke="#000" stroke-width="0.6" fill="none" stroke-linejoin="round"/>
<text x="307.3" y="295.5" font-size="8.05" text-anchor="start" letter-spacing="0.5">ll</text>
<rect x="212.9" y="299.2" width="18.9" height="6.8" fill="#fa320a"/>
<line x1="212.9" y1="302.6" x2="231.8" y2="302.6" stroke="#a82c40" stroke-width="1.6"/>
<circle cx="222.35" cy="302.6" r="2.45" fill="#000"/>
<text x="236" y="305.45" font-size="8.05" text-anchor="start" >Multijet Background</text>
<path d="M393.1,427.4 L393.1,363.03 L421.78,363.03 L421.78,344.93 L450.46,344.93 L450.46,327.59 L479.14,327.59 L479.14,318.51 L507.82,318.51 L507.82,321.75 L536.5,321.75 L536.5,321.23 L565.18,321.23 L565.18,318.75 L593.86,318.75 L593.86,327.8 L622.54,327.8 L622.54,345.16 L651.22,345.16 L651.22,363.03 L679.9,363.03 L679.9,427.4Z" fill="#3399ff"/>
<path d="M393.1,363.03 L421.78,363.03 L421.78,344.93 L450.46,344.93 L450.46,327.59 L479.14,327.59 L479.14,318.51 L507.82,318.51 L507.82,321.75 L536.5,321.75 L536.5,321.23 L565.18,321.23 L565.18,318.75 L593.86,318.75 L593.86,327.8 L622.54,327.8 L622.54,345.16 L651.22,345.16 L651.22,363.03 L679.9,363.03" fill="none" stroke="#0a55c8" stroke-width="1.8" stroke-linejoin="miter"/>
<rect x="393.1" y="426.1" width="286.8" height="0.7" fill="#ff9900" opacity="1"/>
<rect x="393.1" y="264.7" width="286.8" height="162.7" fill="none" stroke="#000" stroke-width="1"/>
<line x1="393.1" y1="427.6" x2="679.9" y2="427.6" stroke="#8a1c1c" stroke-width="1.3"/>
<text x="390.8" y="405" font-size="7.7" text-anchor="end" >1000</text>
<text x="390.8" y="379.5" font-size="7.7" text-anchor="end" >2000</text>
<text x="390.8" y="354" font-size="7.7" text-anchor="end" >3000</text>
<text x="390.8" y="328.5" font-size="7.7" text-anchor="end" >4000</text>
<text x="390.8" y="303" font-size="7.7" text-anchor="end" >5000</text>
<text x="390.8" y="277.5" font-size="7.7" text-anchor="end" >6000</text>
<path d="M393.1,422.75h4.8M679.9,422.75h-4.8M393.1,417.65h4.8M679.9,417.65h-4.8M393.1,412.55h4.8M679.9,412.55h-4.8M393.1,407.45h4.8M679.9,407.45h-4.8M393.1,402.35h9.6M679.9,402.35h-9.6M393.1,397.25h4.8M679.9,397.25h-4.8M393.1,392.15h4.8M679.9,392.15h-4.8M393.1,387.05h4.8M679.9,387.05h-4.8M393.1,381.95h4.8M679.9,381.95h-4.8M393.1,376.85h9.6M679.9,376.85h-9.6M393.1,371.75h4.8M679.9,371.75h-4.8M393.1,366.65h4.8M679.9,366.65h-4.8M393.1,361.55h4.8M679.9,361.55h-4.8M393.1,356.45h4.8M679.9,356.45h-4.8M393.1,351.35h9.6M679.9,351.35h-9.6M393.1,346.25h4.8M679.9,346.25h-4.8M393.1,341.15h4.8M679.9,341.15h-4.8M393.1,336.05h4.8M679.9,336.05h-4.8M393.1,330.95h4.8M679.9,330.95h-4.8M393.1,325.85h9.6M679.9,325.85h-9.6M393.1,320.75h4.8M679.9,320.75h-4.8M393.1,315.65h4.8M679.9,315.65h-4.8M393.1,310.55h4.8M679.9,310.55h-4.8M393.1,305.45h4.8M679.9,305.45h-4.8M393.1,300.35h9.6M679.9,300.35h-9.6M393.1,295.25h4.8M679.9,295.25h-4.8M393.1,290.15h4.8M679.9,290.15h-4.8M393.1,285.05h4.8M679.9,285.05h-4.8M393.1,279.95h4.8M679.9,279.95h-4.8M393.1,274.85h9.6M679.9,274.85h-9.6M393.1,269.75h4.8M679.9,269.75h-4.8" stroke="#000" stroke-width="0.7" fill="none"/>
<path d="M393.1,427.4v-4.6M393.1,264.7v4.6M398.84,427.4v-2.3M398.84,264.7v2.3M404.57,427.4v-2.3M404.57,264.7v2.3M410.31,427.4v-2.3M410.31,264.7v2.3M416.04,427.4v-2.3M416.04,264.7v2.3M421.78,427.4v-4.6M421.78,264.7v4.6M427.52,427.4v-2.3M427.52,264.7v2.3M433.25,427.4v-2.3M433.25,264.7v2.3M438.99,427.4v-2.3M438.99,264.7v2.3M444.72,427.4v-2.3M444.72,264.7v2.3M450.46,427.4v-4.6M450.46,264.7v4.6M456.2,427.4v-2.3M456.2,264.7v2.3M461.93,427.4v-2.3M461.93,264.7v2.3M467.67,427.4v-2.3M467.67,264.7v2.3M473.4,427.4v-2.3M473.4,264.7v2.3M479.14,427.4v-4.6M479.14,264.7v4.6M484.88,427.4v-2.3M484.88,264.7v2.3M490.61,427.4v-2.3M490.61,264.7v2.3M496.35,427.4v-2.3M496.35,264.7v2.3M502.08,427.4v-2.3M502.08,264.7v2.3M507.82,427.4v-4.6M507.82,264.7v4.6M513.56,427.4v-2.3M513.56,264.7v2.3M519.29,427.4v-2.3M519.29,264.7v2.3M525.03,427.4v-2.3M525.03,264.7v2.3M530.76,427.4v-2.3M530.76,264.7v2.3M536.5,427.4v-4.6M536.5,264.7v4.6M542.24,427.4v-2.3M542.24,264.7v2.3M547.97,427.4v-2.3M547.97,264.7v2.3M553.71,427.4v-2.3M553.71,264.7v2.3M559.44,427.4v-2.3M559.44,264.7v2.3M565.18,427.4v-4.6M565.18,264.7v4.6M570.92,427.4v-2.3M570.92,264.7v2.3M576.65,427.4v-2.3M576.65,264.7v2.3M582.39,427.4v-2.3M582.39,264.7v2.3M588.12,427.4v-2.3M588.12,264.7v2.3M593.86,427.4v-4.6M593.86,264.7v4.6M599.6,427.4v-2.3M599.6,264.7v2.3M605.33,427.4v-2.3M605.33,264.7v2.3M611.07,427.4v-2.3M611.07,264.7v2.3M616.8,427.4v-2.3M616.8,264.7v2.3M622.54,427.4v-4.6M622.54,264.7v4.6M628.28,427.4v-2.3M628.28,264.7v2.3M634.01,427.4v-2.3M634.01,264.7v2.3M639.75,427.4v-2.3M639.75,264.7v2.3M645.48,427.4v-2.3M645.48,264.7v2.3M651.22,427.4v-4.6M651.22,264.7v4.6M656.96,427.4v-2.3M656.96,264.7v2.3M662.69,427.4v-2.3M662.69,264.7v2.3M668.43,427.4v-2.3M668.43,264.7v2.3M674.16,427.4v-2.3M674.16,264.7v2.3M679.9,427.4v-4.6M679.9,264.7v4.6" stroke="#000" stroke-width="0.65" fill="none"/>
<text x="392.8" y="263" font-size="7.6">×10<tspan dy="-3.9" font-size="5.4">3</tspan></text>
<line x1="393.1" y1="362.86" x2="421.78" y2="362.86" stroke="#10109a" stroke-width="1.4"/>
<line x1="421.78" y1="343.91" x2="450.46" y2="343.91" stroke="#10109a" stroke-width="1.4"/>
<line x1="450.46" y1="327.49" x2="479.14" y2="327.49" stroke="#10109a" stroke-width="1.4"/>
<line x1="479.14" y1="318.9" x2="507.82" y2="318.9" stroke="#10109a" stroke-width="1.4"/>
<line x1="507.82" y1="322.31" x2="536.5" y2="322.31" stroke="#10109a" stroke-width="1.4"/>
<line x1="536.5" y1="321.45" x2="565.18" y2="321.45" stroke="#10109a" stroke-width="1.4"/>
<line x1="565.18" y1="320.17" x2="593.86" y2="320.17" stroke="#10109a" stroke-width="1.4"/>
<line x1="593.86" y1="327.54" x2="622.54" y2="327.54" stroke="#10109a" stroke-width="1.4"/>
<line x1="622.54" y1="344.14" x2="651.22" y2="344.14" stroke="#10109a" stroke-width="1.4"/>
<line x1="651.22" y1="362.86" x2="679.9" y2="362.86" stroke="#10109a" stroke-width="1.4"/>
<circle cx="407.44" cy="362.86" r="2.55" fill="#000"/>
<circle cx="436.12" cy="343.91" r="2.55" fill="#000"/>
<circle cx="464.8" cy="327.49" r="2.55" fill="#000"/>
<circle cx="493.48" cy="318.9" r="2.55" fill="#000"/>
<circle cx="522.16" cy="322.31" r="2.55" fill="#000"/>
<circle cx="550.84" cy="321.45" r="2.55" fill="#000"/>
<circle cx="579.52" cy="320.17" r="2.55" fill="#000"/>
<circle cx="608.2" cy="327.54" r="2.55" fill="#000"/>
<circle cx="636.88" cy="344.14" r="2.55" fill="#000"/>
<circle cx="665.56" cy="362.86" r="2.55" fill="#000"/>
<path d="M393.1,450.09 L421.78,450.09 L421.78,450.09 L450.46,450.09 L450.46,450.09 L479.14,450.09 L479.14,450.09 L507.82,450.09 L507.82,450.09 L536.5,450.09 L536.5,450.09 L565.18,450.09 L565.18,450.09 L593.86,450.09 L593.86,450.09 L622.54,450.09 L622.54,450.09 L651.22,450.09 L651.22,450.09 L679.9,450.09 L679.9,458.01 L651.22,458.01 L651.22,458.01 L622.54,458.01 L622.54,458.01 L593.86,458.01 L593.86,458.01 L565.18,458.01 L565.18,458.01 L536.5,458.01 L536.5,458.01 L507.82,458.01 L507.82,458.01 L479.14,458.01 L479.14,458.01 L450.46,458.01 L450.46,458.01 L421.78,458.01 L421.78,458.01 L393.1,458.01Z" fill="#cccccc"/>
<path d="M394,467.25H679.9M394,440.85H679.9M421.78,431V477.5M450.46,431V477.5M479.14,431V477.5M507.82,431V477.5M536.5,431V477.5M565.18,431V477.5M593.86,431V477.5M622.54,431V477.5M651.22,431V477.5" stroke="#000" stroke-width="0.75" stroke-dasharray="1 1" fill="none"/>
<line x1="393.1" y1="454.05" x2="679.9" y2="454.05" stroke="#555" stroke-width="1" stroke-dasharray="2.1 1.7"/>
<line x1="393.1" y1="453.36" x2="421.78" y2="453.36" stroke="#5e5e5e" stroke-width="1.0" opacity="0.85"/>
<circle cx="407.44" cy="453.36" r="2.6" fill="#5e5e5e"/>
<line x1="421.78" y1="450.8" x2="450.46" y2="450.8" stroke="#5e5e5e" stroke-width="1.0" opacity="0.85"/>
<circle cx="436.12" cy="450.8" r="2.6" fill="#5e5e5e"/>
<line x1="450.46" y1="453.79" x2="479.14" y2="453.79" stroke="#5e5e5e" stroke-width="1.0" opacity="0.85"/>
<circle cx="464.8" cy="453.79" r="2.6" fill="#5e5e5e"/>
<line x1="479.14" y1="454.97" x2="507.82" y2="454.97" stroke="#5e5e5e" stroke-width="1.0" opacity="0.85"/>
<circle cx="493.48" cy="454.97" r="2.6" fill="#5e5e5e"/>
<line x1="507.82" y1="455.45" x2="536.5" y2="455.45" stroke="#5e5e5e" stroke-width="1.0" opacity="0.85"/>
<circle cx="522.16" cy="455.45" r="2.6" fill="#5e5e5e"/>
<line x1="536.5" y1="454.58" x2="565.18" y2="454.58" stroke="#5e5e5e" stroke-width="1.0" opacity="0.85"/>
<circle cx="550.84" cy="454.58" r="2.6" fill="#5e5e5e"/>
<line x1="565.18" y1="457.48" x2="593.86" y2="457.48" stroke="#5e5e5e" stroke-width="1.0" opacity="0.85"/>
<circle cx="579.52" cy="457.48" r="2.6" fill="#5e5e5e"/>
<line x1="593.86" y1="453.36" x2="622.54" y2="453.36" stroke="#5e5e5e" stroke-width="1.0" opacity="0.85"/>
<circle cx="608.2" cy="453.36" r="2.6" fill="#5e5e5e"/>
<line x1="622.54" y1="450.8" x2="651.22" y2="450.8" stroke="#5e5e5e" stroke-width="1.0" opacity="0.85"/>
<circle cx="636.88" cy="450.8" r="2.6" fill="#5e5e5e"/>
<line x1="651.22" y1="453.36" x2="679.9" y2="453.36" stroke="#5e5e5e" stroke-width="1.0" opacity="0.85"/>
<circle cx="665.56" cy="453.36" r="2.6" fill="#5e5e5e"/>
<rect x="393.1" y="430.3" width="286.8" height="47.2" fill="none" stroke="#000" stroke-width="1"/>
<text x="391" y="470.25" font-size="8.5" text-anchor="end" >0.95</text>
<text x="391" y="457.05" font-size="8.5" text-anchor="end" >1</text>
<text x="391" y="443.85" font-size="8.5" text-anchor="end" >1.05</text>
<path d="M393.1,467.25h6M679.9,467.25h-6M393.1,454.05h6M679.9,454.05h-6M393.1,440.85h6M679.9,440.85h-6" stroke="#000" stroke-width="1" fill="none"/>
<text x="393.1" y="485.3" font-size="8.35" text-anchor="middle" >−2.5</text>
<text x="421.78" y="485.3" font-size="8.35" text-anchor="middle" >−2</text>
<text x="450.46" y="485.3" font-size="8.35" text-anchor="middle" >−1.5</text>
<text x="479.14" y="485.3" font-size="8.35" text-anchor="middle" >−1</text>
<text x="507.82" y="485.3" font-size="8.35" text-anchor="middle" >−0.5</text>
<text x="536.5" y="485.3" font-size="8.35" text-anchor="middle" >0</text>
<text x="565.18" y="485.3" font-size="8.35" text-anchor="middle" >0.5</text>
<text x="593.86" y="485.3" font-size="8.35" text-anchor="middle" >1</text>
<text x="622.54" y="485.3" font-size="8.35" text-anchor="middle" >1.5</text>
<text x="651.22" y="485.3" font-size="8.35" text-anchor="middle" >2</text>
<text x="679.9" y="485.3" font-size="8.35" text-anchor="middle" >2.5</text>
<path d="M393.1,477.5v-3.4M393.1,430.3v3.4M398.84,477.5v-1.7M398.84,430.3v1.7M404.57,477.5v-1.7M404.57,430.3v1.7M410.31,477.5v-1.7M410.31,430.3v1.7M416.04,477.5v-1.7M416.04,430.3v1.7M421.78,477.5v-3.4M421.78,430.3v3.4M427.52,477.5v-1.7M427.52,430.3v1.7M433.25,477.5v-1.7M433.25,430.3v1.7M438.99,477.5v-1.7M438.99,430.3v1.7M444.72,477.5v-1.7M444.72,430.3v1.7M450.46,477.5v-3.4M450.46,430.3v3.4M456.2,477.5v-1.7M456.2,430.3v1.7M461.93,477.5v-1.7M461.93,430.3v1.7M467.67,477.5v-1.7M467.67,430.3v1.7M473.4,477.5v-1.7M473.4,430.3v1.7M479.14,477.5v-3.4M479.14,430.3v3.4M484.88,477.5v-1.7M484.88,430.3v1.7M490.61,477.5v-1.7M490.61,430.3v1.7M496.35,477.5v-1.7M496.35,430.3v1.7M502.08,477.5v-1.7M502.08,430.3v1.7M507.82,477.5v-3.4M507.82,430.3v3.4M513.56,477.5v-1.7M513.56,430.3v1.7M519.29,477.5v-1.7M519.29,430.3v1.7M525.03,477.5v-1.7M525.03,430.3v1.7M530.76,477.5v-1.7M530.76,430.3v1.7M536.5,477.5v-3.4M536.5,430.3v3.4M542.24,477.5v-1.7M542.24,430.3v1.7M547.97,477.5v-1.7M547.97,430.3v1.7M553.71,477.5v-1.7M553.71,430.3v1.7M559.44,477.5v-1.7M559.44,430.3v1.7M565.18,477.5v-3.4M565.18,430.3v3.4M570.92,477.5v-1.7M570.92,430.3v1.7M576.65,477.5v-1.7M576.65,430.3v1.7M582.39,477.5v-1.7M582.39,430.3v1.7M588.12,477.5v-1.7M588.12,430.3v1.7M593.86,477.5v-3.4M593.86,430.3v3.4M599.6,477.5v-1.7M599.6,430.3v1.7M605.33,477.5v-1.7M605.33,430.3v1.7M611.07,477.5v-1.7M611.07,430.3v1.7M616.8,477.5v-1.7M616.8,430.3v1.7M622.54,477.5v-3.4M622.54,430.3v3.4M628.28,477.5v-1.7M628.28,430.3v1.7M634.01,477.5v-1.7M634.01,430.3v1.7M639.75,477.5v-1.7M639.75,430.3v1.7M645.48,477.5v-1.7M645.48,430.3v1.7M651.22,477.5v-3.4M651.22,430.3v3.4M656.96,477.5v-1.7M656.96,430.3v1.7M662.69,477.5v-1.7M662.69,430.3v1.7M668.43,477.5v-1.7M668.43,430.3v1.7M674.16,477.5v-1.7M674.16,430.3v1.7M679.9,477.5v-3.4M679.9,430.3v3.4" stroke="#222" stroke-width="0.5" fill="none"/>
<text transform="translate(364.9,263.8) rotate(-90)" font-size="9.95" text-anchor="end">Events / 0.5</text>
<text transform="translate(366.3,429) rotate(-90)" font-size="10.65" text-anchor="end">Data/Pred.</text>
<text x="679.8" y="497.8" font-size="10" text-anchor="end"><tspan font-family='"Liberation Serif", serif' font-size="12.3">η</tspan><tspan dy="4.6" font-size="7.8" font-family='"Liberation Serif", serif'>μ</tspan></text>
<text x="406.8" y="277" font-size="9.9" font-weight="bold" font-style="italic" letter-spacing="0.25">ATLAS</text>
<path d="M407,282.9l0.6,-0.35l0.9,3.7l1.0,-7.0h4.2" stroke="#000" stroke-width="0.8" fill="none"/>
<text x="409.5" y="286.4" font-size="8.3">s=13 TeV, 36.1 fb<tspan dy="-3.2" font-size="5.4">-1</tspan></text>
<line x1="569.5" y1="272.8" x2="588.4" y2="272.8" stroke="#10109a" stroke-width="1.2"/>
<circle cx="578.95" cy="272.8" r="2.5" fill="#000"/>
<text x="592.6" y="275.65" font-size="8.05" text-anchor="start" >Data</text>
<rect x="569.5" y="279.35" width="18.9" height="6.8" fill="#3399ff"/>
<line x1="569.5" y1="282.75" x2="588.4" y2="282.75" stroke="#0a55c8" stroke-width="1.6"/>
<circle cx="578.95" cy="282.75" r="0.5" fill="#000"/>
<text x="592.6" y="285.6" font-size="8.05">Z/<tspan font-family='"Liberation Serif", serif' font-size="9.3">γ</tspan><tspan dy="-2.6" font-size="5.6">*</tspan></text>
<path d="M606.5,283.1H614.4M612.5,281.8L614.8,283.1L612.5,284.4" stroke="#000" stroke-width="0.6" fill="none" stroke-linejoin="round"/>
<text x="617.2" y="285.6" font-size="8.4" font-family='"Liberation Serif", serif'>μμ</text>
<rect x="569.5" y="289.25" width="18.9" height="6.8" fill="#ffcc00"/>
<line x1="569.5" y1="292.65" x2="588.4" y2="292.65" stroke="#ff9900" stroke-width="1.6"/>
<circle cx="578.95" cy="292.65" r="0.5" fill="#000"/>
<text x="592.6" y="295.5" font-size="8.05">NLO EW+Top, </text>
<text x="646.5" y="295.5" font-size="9.3" letter-spacing="0.6" font-family='"Liberation Serif", serif'>γγ</text>
<path d="M655.6,293H661.7M659.8,291.7L662.1,293L659.8,294.3" stroke="#000" stroke-width="0.6" fill="none" stroke-linejoin="round"/>
<text x="663.9" y="295.5" font-size="8.05" text-anchor="start" letter-spacing="0.5">ll</text>
<rect x="569.5" y="299.2" width="18.9" height="6.8" fill="#fa320a"/>
<line x1="569.5" y1="302.6" x2="588.4" y2="302.6" stroke="#a82c40" stroke-width="1.6"/>
<circle cx="578.95" cy="302.6" r="0.5" fill="#000"/>
<text x="592.6" y="305.45" font-size="8.05" text-anchor="start" >Multijet Background</text>
</svg>
</body></html>
